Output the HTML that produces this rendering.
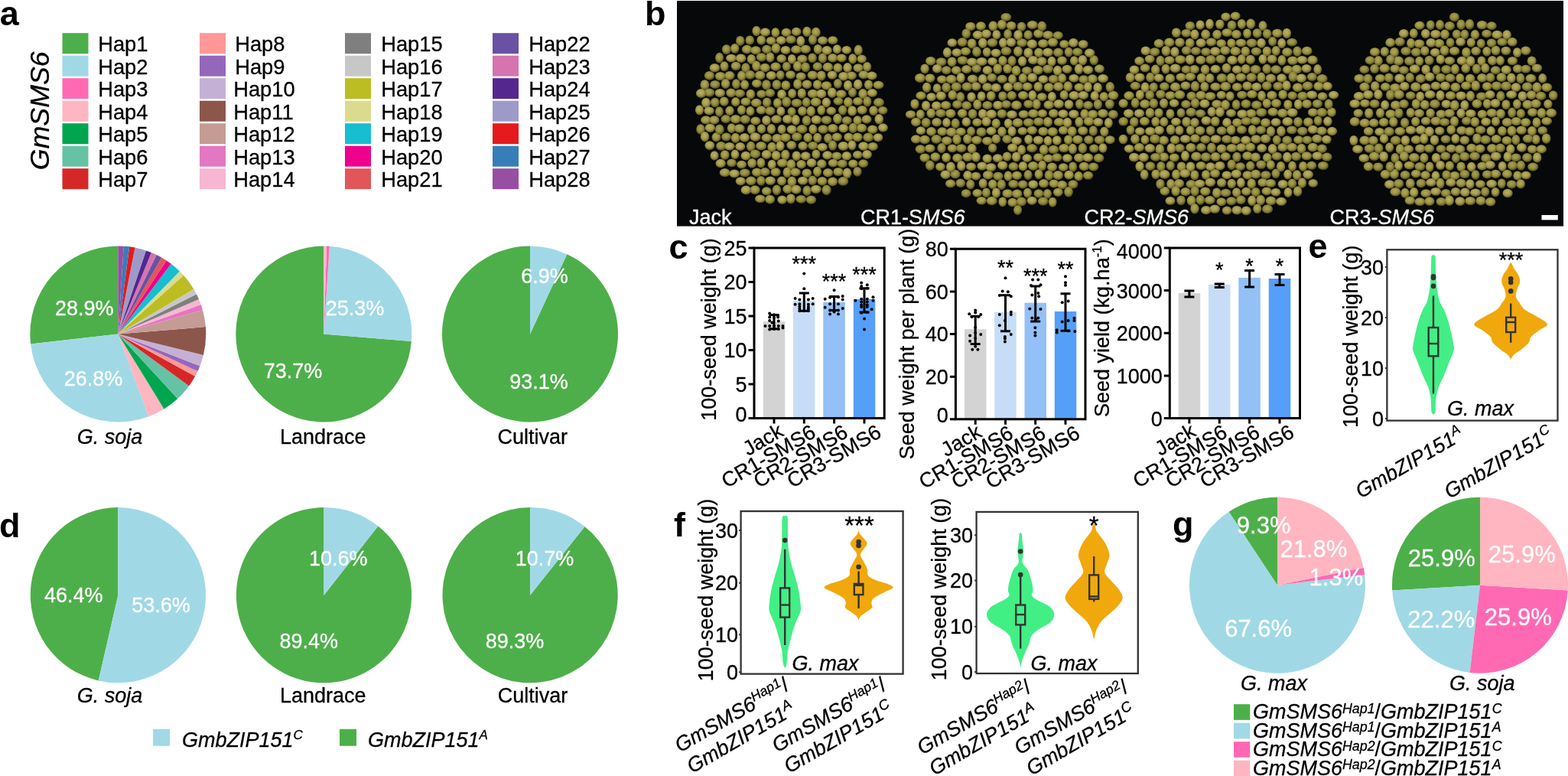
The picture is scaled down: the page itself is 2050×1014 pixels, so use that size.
<!DOCTYPE html>
<html><head><meta charset="utf-8"><title>Figure</title>
<style>
html,body{margin:0;padding:0;background:#fff;}
body{width:2050px;height:1014px;overflow:hidden;}
svg{display:block;}
text{stroke:#000;stroke-width:0.3px;}
text[fill="#fff"]{stroke:#fff;}
text[font-weight="bold"]{stroke:none;}
</style></head><body>
<svg width="2050" height="1014" viewBox="0 0 2050 1014" font-family="'Liberation Sans', Arial, sans-serif" font-size="27">
<text x="-0.3" y="33" font-weight="bold" font-size="45">a</text>
<text x="843" y="33" font-weight="bold" font-size="45">b</text>
<text x="874.5" y="337.5" font-weight="bold" font-size="45">c</text>
<text x="-1" y="701.5" font-weight="bold" font-size="45">d</text>
<text x="1710.5" y="336.5" font-weight="bold" font-size="45">e</text>
<text x="881" y="700.5" font-weight="bold" font-size="45">f</text>
<text x="1533" y="699.5" font-weight="bold" font-size="45">g</text>
<rect x="81.5" y="43.2" width="34" height="27" fill="#4DAF4A"/>
<text x="128.2" y="67.1" font-size="27.3">Hap1</text>
<rect x="81.5" y="72.7" width="34" height="27" fill="#A0D9E5"/>
<text x="128.2" y="96.6" font-size="27.3">Hap2</text>
<rect x="81.5" y="102.2" width="34" height="27" fill="#FF69B4"/>
<text x="128.2" y="126.1" font-size="27.3">Hap3</text>
<rect x="81.5" y="131.7" width="34" height="27" fill="#FFB6C1"/>
<text x="128.2" y="155.6" font-size="27.3">Hap4</text>
<rect x="81.5" y="161.2" width="34" height="27" fill="#00A550"/>
<text x="128.2" y="185.1" font-size="27.3">Hap5</text>
<rect x="81.5" y="190.7" width="34" height="27" fill="#66C2A5"/>
<text x="128.2" y="214.6" font-size="27.3">Hap6</text>
<rect x="81.5" y="220.2" width="34" height="27" fill="#D62728"/>
<text x="128.2" y="244.1" font-size="27.3">Hap7</text>
<rect x="261" y="43.2" width="34" height="27" fill="#FF9896"/>
<text x="307.2" y="67.1" font-size="27.3">Hap8</text>
<rect x="261" y="72.7" width="34" height="27" fill="#9467BD"/>
<text x="307.2" y="96.6" font-size="27.3">Hap9</text>
<rect x="261" y="102.2" width="34" height="27" fill="#C5B0D5"/>
<text x="305.2" y="126.1" font-size="27.3">Hap10</text>
<rect x="261" y="131.7" width="34" height="27" fill="#8C564B"/>
<text x="305.2" y="155.6" font-size="27.3">Hap11</text>
<rect x="261" y="161.2" width="34" height="27" fill="#C49C94"/>
<text x="305.2" y="185.1" font-size="27.3">Hap12</text>
<rect x="261" y="190.7" width="34" height="27" fill="#E377C2"/>
<text x="305.2" y="214.6" font-size="27.3">Hap13</text>
<rect x="261" y="220.2" width="34" height="27" fill="#F7B6D2"/>
<text x="305.2" y="244.1" font-size="27.3">Hap14</text>
<rect x="451" y="43.2" width="34" height="27" fill="#7F7F7F"/>
<text x="498.2" y="67.1" font-size="27.3">Hap15</text>
<rect x="451" y="72.7" width="34" height="27" fill="#C7C7C7"/>
<text x="498.2" y="96.6" font-size="27.3">Hap16</text>
<rect x="451" y="102.2" width="34" height="27" fill="#BCBD22"/>
<text x="498.2" y="126.1" font-size="27.3">Hap17</text>
<rect x="451" y="131.7" width="34" height="27" fill="#DBDB8D"/>
<text x="498.2" y="155.6" font-size="27.3">Hap18</text>
<rect x="451" y="161.2" width="34" height="27" fill="#17BECF"/>
<text x="498.2" y="185.1" font-size="27.3">Hap19</text>
<rect x="451" y="190.7" width="34" height="27" fill="#EC008C"/>
<text x="498.2" y="214.6" font-size="27.3">Hap20</text>
<rect x="451" y="220.2" width="34" height="27" fill="#E15759"/>
<text x="498.2" y="244.1" font-size="27.3">Hap21</text>
<rect x="644" y="43.2" width="34" height="27" fill="#6A51A3"/>
<text x="691.2" y="67.1" font-size="27.3">Hap22</text>
<rect x="644" y="72.7" width="34" height="27" fill="#D574AE"/>
<text x="691.2" y="96.6" font-size="27.3">Hap23</text>
<rect x="644" y="102.2" width="34" height="27" fill="#54278F"/>
<text x="691.2" y="126.1" font-size="27.3">Hap24</text>
<rect x="644" y="131.7" width="34" height="27" fill="#9E9AC8"/>
<text x="691.2" y="155.6" font-size="27.3">Hap25</text>
<rect x="644" y="161.2" width="34" height="27" fill="#E41A1C"/>
<text x="691.2" y="185.1" font-size="27.3">Hap26</text>
<rect x="644" y="190.7" width="34" height="27" fill="#377EB8"/>
<text x="691.2" y="214.6" font-size="27.3">Hap27</text>
<rect x="644" y="220.2" width="34" height="27" fill="#984EA3"/>
<text x="691.2" y="244.1" font-size="27.3">Hap28</text>
<text transform="translate(63.5 144.8) rotate(-90)" text-anchor="middle" font-style="italic" font-size="35.7">GmSMS6</text>
<path d="M154.30 436.40L154.30 321.40A115 115 0 0 0 40.04 449.41Z" fill="#4DAF4A"/>
<path d="M154.30 436.40L40.04 449.41A115 115 0 0 0 194.41 544.18Z" fill="#A0D9E5"/>
<path d="M154.30 436.40L194.41 544.18A115 115 0 0 0 214.47 534.40Z" fill="#FFB6C1"/>
<path d="M154.30 436.40L214.47 534.40A115 115 0 0 0 232.26 520.94Z" fill="#00A550"/>
<path d="M154.30 436.40L232.26 520.94A115 115 0 0 0 247.12 504.30Z" fill="#66C2A5"/>
<path d="M154.30 436.40L247.12 504.30A115 115 0 0 0 255.11 491.74Z" fill="#D62728"/>
<path d="M154.30 436.40L255.11 491.74A115 115 0 0 0 258.48 485.09Z" fill="#FF9896"/>
<path d="M154.30 436.40L258.48 485.09A115 115 0 0 0 261.42 478.25Z" fill="#9467BD"/>
<path d="M154.30 436.40L261.42 478.25A115 115 0 0 0 265.92 464.06Z" fill="#C5B0D5"/>
<path d="M154.30 436.40L265.92 464.06A115 115 0 0 0 268.92 427.10Z" fill="#8C564B"/>
<path d="M154.30 436.40L268.92 427.10A115 115 0 0 0 264.97 405.14Z" fill="#C49C94"/>
<path d="M154.30 436.40L264.97 405.14A115 115 0 0 0 262.71 398.04Z" fill="#E377C2"/>
<path d="M154.30 436.40L262.71 398.04A115 115 0 0 0 260.00 391.10Z" fill="#F7B6D2"/>
<path d="M154.30 436.40L260.00 391.10A115 115 0 0 0 256.85 384.36Z" fill="#7F7F7F"/>
<path d="M154.30 436.40L256.85 384.36A115 115 0 0 0 253.27 377.83Z" fill="#C7C7C7"/>
<path d="M154.30 436.40L253.27 377.83A115 115 0 0 0 240.09 359.82Z" fill="#BCBD22"/>
<path d="M154.30 436.40L240.09 359.82A115 115 0 0 0 234.96 354.43Z" fill="#DBDB8D"/>
<path d="M154.30 436.40L234.96 354.43A115 115 0 0 0 223.69 344.69Z" fill="#17BECF"/>
<path d="M154.30 436.40L223.69 344.69A115 115 0 0 0 217.61 340.39Z" fill="#EC008C"/>
<path d="M154.30 436.40L217.61 340.39A115 115 0 0 0 211.26 336.50Z" fill="#E15759"/>
<path d="M154.30 436.40L211.26 336.50A115 115 0 0 0 204.68 333.02Z" fill="#6A51A3"/>
<path d="M154.30 436.40L204.68 333.02A115 115 0 0 0 197.88 329.98Z" fill="#D574AE"/>
<path d="M154.30 436.40L197.88 329.98A115 115 0 0 0 190.90 327.38Z" fill="#54278F"/>
<path d="M154.30 436.40L190.90 327.38A115 115 0 0 0 176.51 323.56Z" fill="#9E9AC8"/>
<path d="M154.30 436.40L176.51 323.56A115 115 0 0 0 169.16 322.36Z" fill="#E41A1C"/>
<path d="M154.30 436.40L169.16 322.36A115 115 0 0 0 161.74 321.64Z" fill="#377EB8"/>
<path d="M154.30 436.40L161.74 321.64A115 115 0 0 0 154.30 321.40Z" fill="#984EA3"/>
<path d="M423.30 436.50L423.30 321.50A115 115 0 1 0 537.91 446.00Z" fill="#4DAF4A"/>
<path d="M423.30 436.50L537.91 446.00A115 115 0 0 0 430.90 321.75Z" fill="#A0D9E5"/>
<path d="M423.30 436.50L430.90 321.75A115 115 0 0 0 427.10 321.56Z" fill="#FF69B4"/>
<path d="M423.30 436.50L427.10 321.56A115 115 0 0 0 423.30 321.50Z" fill="#FFB6C1"/>
<path d="M693.00 436.50L693.00 321.50A115 115 0 1 0 741.31 332.14Z" fill="#4DAF4A"/>
<path d="M693.00 436.50L741.31 332.14A115 115 0 0 0 693.00 321.50Z" fill="#A0D9E5"/>
<text x="110.2" y="411.5" text-anchor="middle" fill="#fff">28.9%</text>
<text x="122" y="504" text-anchor="middle" fill="#fff">26.8%</text>
<text x="464" y="412.3" text-anchor="middle" fill="#fff">25.3%</text>
<text x="383" y="493.6" text-anchor="middle" fill="#fff">73.7%</text>
<text x="712" y="370" text-anchor="middle" fill="#fff">6.9%</text>
<text x="704.5" y="508.4" text-anchor="middle" fill="#fff">93.1%</text>
<text x="143.5" y="579.5" text-anchor="middle" font-style="italic">G. soja</text>
<text x="422.3" y="579.5" text-anchor="middle">Landrace</text>
<text x="696.3" y="579.5" text-anchor="middle">Cultivar</text>
<path d="M154.40 777.70L154.40 663.10A114.6 114.6 0 0 0 128.70 889.38Z" fill="#4DAF4A"/>
<path d="M154.40 777.70L128.70 889.38A114.6 114.6 0 1 0 154.40 663.10Z" fill="#A0D9E5"/>
<path d="M423.50 777.70L423.50 663.10A114.6 114.6 0 1 0 494.31 687.59Z" fill="#4DAF4A"/>
<path d="M423.50 777.70L494.31 687.59A114.6 114.6 0 0 0 423.50 663.10Z" fill="#A0D9E5"/>
<path d="M693.10 777.70L693.10 663.10A114.6 114.6 0 1 0 764.47 688.04Z" fill="#4DAF4A"/>
<path d="M693.10 777.70L764.47 688.04A114.6 114.6 0 0 0 693.10 663.10Z" fill="#A0D9E5"/>
<text x="96.2" y="786.6" text-anchor="middle" fill="#fff">46.4%</text>
<text x="210.5" y="799.5" text-anchor="middle" fill="#fff">53.6%</text>
<text x="442.3" y="739.2" text-anchor="middle" fill="#fff">10.6%</text>
<text x="403.8" y="847.3" text-anchor="middle" fill="#fff">89.4%</text>
<text x="712" y="739.2" text-anchor="middle" fill="#fff">10.7%</text>
<text x="673" y="847.3" text-anchor="middle" fill="#fff">89.3%</text>
<text x="143.5" y="918.3" text-anchor="middle" font-style="italic">G. soja</text>
<text x="422.3" y="918.3" text-anchor="middle">Landrace</text>
<text x="696.5" y="918.3" text-anchor="middle">Cultivar</text>
<rect x="200" y="952.7" width="22" height="22" fill="#A0D9E5"/>
<rect x="444" y="952.7" width="22" height="22" fill="#4DAF4A"/>
<text x="238" y="975.8" font-style="italic">GmbZIP151<tspan font-size="17" dy="-10">C</tspan></text>
<text x="481" y="975.8" font-style="italic">GmbZIP151<tspan font-size="17" dy="-10">A</tspan></text>
<defs><radialGradient id="sd" cx="0.45" cy="0.4" r="0.6"><stop offset="0" stop-color="#B0A85E"/><stop offset="0.55" stop-color="#9C9443"/><stop offset="1" stop-color="#57511E"/></radialGradient><radialGradient id="se" cx="0.45" cy="0.4" r="0.6"><stop offset="0" stop-color="#A8A25A"/><stop offset="0.55" stop-color="#918A3E"/><stop offset="1" stop-color="#4F4A1A"/></radialGradient><radialGradient id="sf" cx="0.45" cy="0.4" r="0.6"><stop offset="0" stop-color="#BAB26C"/><stop offset="0.55" stop-color="#A59B4C"/><stop offset="1" stop-color="#5E5722"/></radialGradient></defs>
<rect x="885" y="1" width="1159" height="294.6" fill="#070809"/>
<g fill="url(#sd)"><ellipse cx="989.0" cy="40.6" rx="5.6" ry="6.7"/><ellipse cx="1013.9" cy="42.6" rx="5.4" ry="6.4"/><ellipse cx="1028.0" cy="42.5" rx="6.4" ry="5.7"/><ellipse cx="1041.2" cy="41.4" rx="6.3" ry="5.6"/><ellipse cx="1055.0" cy="41.4" rx="5.7" ry="6.7"/><ellipse cx="1066.9" cy="42.2" rx="5.8" ry="6.4"/><ellipse cx="995.3" cy="52.5" rx="5.9" ry="6.2"/><ellipse cx="1008.2" cy="53.3" rx="6.5" ry="5.3"/><ellipse cx="1075.6" cy="52.9" rx="6.6" ry="5.4"/><ellipse cx="1088.8" cy="52.6" rx="6.6" ry="5.4"/><ellipse cx="960.7" cy="63.4" rx="5.7" ry="6.3"/><ellipse cx="976.6" cy="64.5" rx="6.7" ry="5.8"/><ellipse cx="988.1" cy="65.8" rx="6.8" ry="5.5"/><ellipse cx="1014.5" cy="63.2" rx="5.9" ry="6.6"/><ellipse cx="1041.1" cy="64.7" rx="7.0" ry="5.4"/><ellipse cx="1053.3" cy="64.3" rx="6.8" ry="5.5"/><ellipse cx="1069.4" cy="64.4" rx="5.6" ry="6.4"/><ellipse cx="1122.2" cy="65.6" rx="5.6" ry="6.8"/><ellipse cx="982.4" cy="77.4" rx="5.7" ry="6.5"/><ellipse cx="1006.9" cy="74.9" rx="5.6" ry="6.6"/><ellipse cx="1021.8" cy="76.6" rx="6.4" ry="5.5"/><ellipse cx="1048.9" cy="77.0" rx="6.8" ry="5.4"/><ellipse cx="1088.7" cy="75.7" rx="6.5" ry="5.7"/><ellipse cx="1100.3" cy="75.8" rx="6.5" ry="5.4"/><ellipse cx="1114.8" cy="76.8" rx="5.6" ry="6.6"/><ellipse cx="1126.7" cy="77.1" rx="6.3" ry="5.5"/><ellipse cx="947.0" cy="86.6" rx="5.6" ry="6.4"/><ellipse cx="962.1" cy="86.3" rx="6.4" ry="5.6"/><ellipse cx="988.9" cy="86.3" rx="5.7" ry="6.8"/><ellipse cx="1000.2" cy="88.5" rx="6.6" ry="5.8"/><ellipse cx="1014.1" cy="87.1" rx="6.8" ry="5.6"/><ellipse cx="1042.6" cy="86.5" rx="5.7" ry="6.7"/><ellipse cx="1082.4" cy="87.7" rx="6.7" ry="5.9"/><ellipse cx="1095.4" cy="88.7" rx="6.0" ry="6.1"/><ellipse cx="1122.1" cy="88.8" rx="6.6" ry="5.6"/><ellipse cx="1133.7" cy="87.3" rx="5.5" ry="6.3"/><ellipse cx="941.8" cy="99.6" rx="6.9" ry="5.7"/><ellipse cx="953.9" cy="98.8" rx="6.7" ry="5.8"/><ellipse cx="969.8" cy="99.2" rx="5.8" ry="6.6"/><ellipse cx="993.7" cy="98.4" rx="6.8" ry="5.8"/><ellipse cx="1033.6" cy="97.7" rx="6.5" ry="5.5"/><ellipse cx="1047.2" cy="99.8" rx="6.6" ry="5.3"/><ellipse cx="1062.4" cy="98.2" rx="6.8" ry="5.8"/><ellipse cx="1073.9" cy="98.9" rx="5.9" ry="6.5"/><ellipse cx="1113.3" cy="99.0" rx="6.7" ry="5.4"/><ellipse cx="1129.2" cy="97.7" rx="6.8" ry="5.4"/><ellipse cx="921.4" cy="110.9" rx="5.9" ry="6.7"/><ellipse cx="948.6" cy="109.5" rx="5.8" ry="6.4"/><ellipse cx="973.7" cy="110.8" rx="5.6" ry="6.2"/><ellipse cx="989.4" cy="109.2" rx="6.5" ry="5.5"/><ellipse cx="1027.4" cy="111.5" rx="5.9" ry="6.2"/><ellipse cx="1042.8" cy="109.9" rx="5.7" ry="6.6"/><ellipse cx="1055.0" cy="110.3" rx="6.5" ry="5.7"/><ellipse cx="1068.7" cy="110.7" rx="5.8" ry="6.2"/><ellipse cx="1080.6" cy="111.9" rx="6.7" ry="5.7"/><ellipse cx="1135.6" cy="110.7" rx="5.7" ry="6.3"/><ellipse cx="1148.5" cy="111.1" rx="7.0" ry="5.3"/><ellipse cx="955.8" cy="121.3" rx="6.5" ry="5.9"/><ellipse cx="981.4" cy="123.2" rx="5.8" ry="6.5"/><ellipse cx="1035.7" cy="122.3" rx="5.5" ry="6.3"/><ellipse cx="1048.3" cy="122.1" rx="5.7" ry="6.7"/><ellipse cx="1062.8" cy="122.5" rx="7.0" ry="5.7"/><ellipse cx="1099.8" cy="122.9" rx="6.8" ry="5.4"/><ellipse cx="1128.2" cy="122.7" rx="5.9" ry="6.6"/><ellipse cx="946.8" cy="132.6" rx="5.9" ry="6.2"/><ellipse cx="961.8" cy="133.2" rx="5.7" ry="6.1"/><ellipse cx="975.0" cy="132.9" rx="6.6" ry="5.4"/><ellipse cx="988.8" cy="134.4" rx="6.9" ry="5.6"/><ellipse cx="1016.5" cy="134.6" rx="5.6" ry="6.4"/><ellipse cx="1066.6" cy="133.3" rx="6.9" ry="5.9"/><ellipse cx="1108.9" cy="133.6" rx="5.9" ry="6.5"/><ellipse cx="1121.6" cy="132.4" rx="6.5" ry="5.4"/><ellipse cx="954.1" cy="144.8" rx="5.7" ry="6.2"/><ellipse cx="969.5" cy="143.8" rx="5.6" ry="6.2"/><ellipse cx="981.0" cy="145.3" rx="5.5" ry="6.2"/><ellipse cx="995.3" cy="143.9" rx="6.5" ry="5.6"/><ellipse cx="1049.0" cy="145.2" rx="5.9" ry="6.2"/><ellipse cx="1060.3" cy="145.4" rx="5.7" ry="6.7"/><ellipse cx="1073.8" cy="144.0" rx="5.4" ry="6.5"/><ellipse cx="1086.8" cy="144.9" rx="6.4" ry="5.3"/><ellipse cx="1127.2" cy="143.7" rx="6.6" ry="5.8"/><ellipse cx="1142.1" cy="144.6" rx="5.8" ry="6.4"/><ellipse cx="923.0" cy="156.8" rx="6.9" ry="5.5"/><ellipse cx="933.9" cy="156.9" rx="6.5" ry="5.6"/><ellipse cx="961.8" cy="155.7" rx="6.9" ry="5.8"/><ellipse cx="987.8" cy="157.9" rx="6.6" ry="5.3"/><ellipse cx="1015.1" cy="155.8" rx="6.9" ry="5.5"/><ellipse cx="1095.0" cy="155.2" rx="5.9" ry="6.8"/><ellipse cx="1121.1" cy="157.4" rx="5.7" ry="6.2"/><ellipse cx="1133.1" cy="155.9" rx="6.5" ry="5.6"/><ellipse cx="956.4" cy="167.6" rx="5.6" ry="6.3"/><ellipse cx="966.9" cy="167.9" rx="6.9" ry="5.7"/><ellipse cx="982.4" cy="168.9" rx="5.5" ry="6.5"/><ellipse cx="995.6" cy="168.4" rx="5.7" ry="6.1"/><ellipse cx="1008.5" cy="168.6" rx="5.7" ry="6.5"/><ellipse cx="1022.2" cy="169.0" rx="5.5" ry="6.2"/><ellipse cx="1062.9" cy="169.0" rx="5.5" ry="6.5"/><ellipse cx="1088.9" cy="167.6" rx="6.8" ry="5.7"/><ellipse cx="1126.5" cy="167.4" rx="6.9" ry="5.6"/><ellipse cx="1140.8" cy="169.2" rx="6.8" ry="5.6"/><ellipse cx="936.5" cy="179.2" rx="5.9" ry="6.1"/><ellipse cx="961.6" cy="180.3" rx="5.8" ry="6.6"/><ellipse cx="1002.4" cy="180.2" rx="6.8" ry="5.5"/><ellipse cx="1016.2" cy="180.6" rx="6.8" ry="5.7"/><ellipse cx="1027.0" cy="179.8" rx="6.9" ry="5.6"/><ellipse cx="1056.3" cy="179.9" rx="5.8" ry="6.2"/><ellipse cx="1068.8" cy="180.1" rx="5.7" ry="6.3"/><ellipse cx="1094.3" cy="179.1" rx="6.6" ry="5.5"/><ellipse cx="1109.6" cy="179.3" rx="6.3" ry="5.7"/><ellipse cx="1121.1" cy="179.3" rx="6.7" ry="5.8"/><ellipse cx="995.2" cy="190.7" rx="7.0" ry="5.6"/><ellipse cx="1009.3" cy="192.3" rx="6.0" ry="6.5"/><ellipse cx="1034.8" cy="189.7" rx="6.4" ry="5.7"/><ellipse cx="1049.7" cy="190.7" rx="6.3" ry="5.6"/><ellipse cx="1141.2" cy="191.4" rx="6.7" ry="5.5"/><ellipse cx="947.7" cy="202.5" rx="5.9" ry="6.3"/><ellipse cx="1026.8" cy="202.5" rx="5.7" ry="6.8"/><ellipse cx="1066.9" cy="201.6" rx="5.5" ry="6.2"/><ellipse cx="1094.0" cy="203.8" rx="6.5" ry="5.3"/><ellipse cx="1121.3" cy="202.2" rx="6.4" ry="5.3"/><ellipse cx="969.6" cy="215.0" rx="6.5" ry="5.3"/><ellipse cx="983.2" cy="213.3" rx="5.9" ry="6.3"/><ellipse cx="995.0" cy="212.8" rx="5.5" ry="6.5"/><ellipse cx="1022.9" cy="213.0" rx="7.0" ry="5.6"/><ellipse cx="1034.4" cy="214.9" rx="5.9" ry="6.6"/><ellipse cx="1047.7" cy="214.8" rx="6.3" ry="5.7"/><ellipse cx="1074.3" cy="214.1" rx="6.3" ry="5.8"/><ellipse cx="1089.3" cy="213.1" rx="6.6" ry="5.3"/><ellipse cx="1115.4" cy="213.9" rx="6.4" ry="5.4"/><ellipse cx="947.7" cy="225.6" rx="7.0" ry="5.5"/><ellipse cx="989.7" cy="225.2" rx="6.8" ry="5.7"/><ellipse cx="1014.1" cy="224.9" rx="6.6" ry="5.7"/><ellipse cx="1029.1" cy="225.4" rx="5.5" ry="6.8"/><ellipse cx="1040.0" cy="225.0" rx="6.8" ry="5.4"/><ellipse cx="1054.9" cy="226.2" rx="6.4" ry="5.8"/><ellipse cx="1068.6" cy="224.3" rx="5.6" ry="6.6"/><ellipse cx="1082.5" cy="225.8" rx="6.6" ry="5.7"/><ellipse cx="1096.0" cy="224.5" rx="6.6" ry="5.5"/><ellipse cx="981.9" cy="236.3" rx="6.9" ry="5.8"/><ellipse cx="1022.1" cy="236.5" rx="6.0" ry="6.1"/><ellipse cx="1035.4" cy="237.3" rx="5.9" ry="6.8"/><ellipse cx="1075.0" cy="236.7" rx="6.5" ry="5.7"/><ellipse cx="1088.6" cy="237.3" rx="6.5" ry="5.9"/><ellipse cx="987.1" cy="248.1" rx="6.7" ry="5.8"/><ellipse cx="1002.3" cy="249.8" rx="6.4" ry="5.5"/><ellipse cx="1029.7" cy="247.1" rx="6.4" ry="5.8"/><ellipse cx="993.9" cy="259.8" rx="6.9" ry="5.3"/><ellipse cx="1006.7" cy="260.6" rx="6.4" ry="5.8"/><ellipse cx="1034.0" cy="259.7" rx="5.9" ry="6.5"/><ellipse cx="1268.8" cy="34.5" rx="6.7" ry="5.6"/><ellipse cx="1282.5" cy="34.1" rx="6.5" ry="5.8"/><ellipse cx="1298.4" cy="34.2" rx="5.9" ry="6.6"/><ellipse cx="1310.0" cy="32.2" rx="6.0" ry="6.5"/><ellipse cx="1322.2" cy="33.6" rx="6.4" ry="5.7"/><ellipse cx="1349.8" cy="32.5" rx="7.0" ry="5.5"/><ellipse cx="1357.8" cy="44.0" rx="6.7" ry="5.7"/><ellipse cx="1370.2" cy="45.6" rx="6.9" ry="5.4"/><ellipse cx="1270.7" cy="57.0" rx="5.9" ry="6.6"/><ellipse cx="1363.9" cy="56.8" rx="6.8" ry="5.6"/><ellipse cx="1376.5" cy="55.3" rx="6.8" ry="5.8"/><ellipse cx="1391.5" cy="57.6" rx="6.3" ry="5.4"/><ellipse cx="1416.2" cy="57.8" rx="6.5" ry="5.6"/><ellipse cx="1262.5" cy="67.1" rx="6.7" ry="5.3"/><ellipse cx="1290.3" cy="68.1" rx="5.5" ry="6.2"/><ellipse cx="1331.0" cy="67.3" rx="5.9" ry="6.8"/><ellipse cx="1358.1" cy="68.9" rx="5.9" ry="6.2"/><ellipse cx="1216.8" cy="79.7" rx="6.7" ry="5.8"/><ellipse cx="1244.6" cy="80.8" rx="6.0" ry="6.4"/><ellipse cx="1311.0" cy="79.4" rx="5.7" ry="6.4"/><ellipse cx="1362.1" cy="80.1" rx="6.5" ry="5.8"/><ellipse cx="1388.6" cy="79.1" rx="6.4" ry="5.7"/><ellipse cx="1404.4" cy="79.4" rx="5.4" ry="6.2"/><ellipse cx="1209.1" cy="89.8" rx="5.7" ry="6.4"/><ellipse cx="1250.3" cy="91.8" rx="6.4" ry="5.5"/><ellipse cx="1263.7" cy="90.5" rx="6.7" ry="5.4"/><ellipse cx="1304.3" cy="89.9" rx="6.0" ry="6.7"/><ellipse cx="1317.2" cy="89.9" rx="5.9" ry="6.2"/><ellipse cx="1328.6" cy="92.4" rx="5.9" ry="6.6"/><ellipse cx="1356.9" cy="91.6" rx="6.9" ry="5.8"/><ellipse cx="1395.1" cy="90.3" rx="6.6" ry="5.6"/><ellipse cx="1437.4" cy="89.8" rx="6.5" ry="5.5"/><ellipse cx="1202.9" cy="102.0" rx="7.0" ry="5.9"/><ellipse cx="1215.9" cy="102.2" rx="6.6" ry="5.8"/><ellipse cx="1231.6" cy="103.7" rx="6.6" ry="5.3"/><ellipse cx="1243.8" cy="103.5" rx="7.0" ry="5.8"/><ellipse cx="1271.6" cy="103.1" rx="6.9" ry="5.5"/><ellipse cx="1323.5" cy="103.5" rx="5.5" ry="6.4"/><ellipse cx="1337.4" cy="102.2" rx="5.6" ry="6.4"/><ellipse cx="1388.7" cy="102.3" rx="5.6" ry="6.2"/><ellipse cx="1428.3" cy="103.2" rx="6.6" ry="5.9"/><ellipse cx="1211.6" cy="114.3" rx="5.7" ry="6.6"/><ellipse cx="1225.1" cy="115.4" rx="5.4" ry="6.2"/><ellipse cx="1276.0" cy="112.9" rx="6.5" ry="5.6"/><ellipse cx="1290.8" cy="113.7" rx="6.6" ry="5.4"/><ellipse cx="1343.2" cy="113.2" rx="6.6" ry="5.5"/><ellipse cx="1357.3" cy="113.3" rx="5.8" ry="6.3"/><ellipse cx="1371.3" cy="114.1" rx="6.5" ry="5.9"/><ellipse cx="1383.8" cy="113.1" rx="6.7" ry="5.8"/><ellipse cx="1396.3" cy="112.9" rx="5.9" ry="6.7"/><ellipse cx="1411.1" cy="114.1" rx="6.6" ry="5.4"/><ellipse cx="1204.1" cy="125.0" rx="6.8" ry="5.4"/><ellipse cx="1245.3" cy="124.2" rx="5.8" ry="6.4"/><ellipse cx="1295.8" cy="125.3" rx="5.9" ry="6.4"/><ellipse cx="1337.7" cy="124.6" rx="6.8" ry="5.6"/><ellipse cx="1362.3" cy="126.6" rx="6.4" ry="5.4"/><ellipse cx="1391.2" cy="124.2" rx="5.6" ry="6.2"/><ellipse cx="1443.3" cy="126.3" rx="5.8" ry="6.1"/><ellipse cx="1455.5" cy="124.7" rx="6.8" ry="5.9"/><ellipse cx="1196.0" cy="135.9" rx="5.7" ry="6.5"/><ellipse cx="1236.6" cy="137.4" rx="6.6" ry="5.4"/><ellipse cx="1277.8" cy="136.7" rx="5.6" ry="6.6"/><ellipse cx="1329.0" cy="137.4" rx="6.9" ry="5.9"/><ellipse cx="1355.2" cy="136.2" rx="5.5" ry="6.7"/><ellipse cx="1371.2" cy="137.0" rx="6.7" ry="5.7"/><ellipse cx="1190.6" cy="149.5" rx="6.8" ry="5.3"/><ellipse cx="1203.4" cy="149.5" rx="5.5" ry="6.2"/><ellipse cx="1217.3" cy="148.0" rx="5.8" ry="6.3"/><ellipse cx="1242.8" cy="148.3" rx="6.7" ry="5.8"/><ellipse cx="1258.2" cy="148.1" rx="6.4" ry="5.8"/><ellipse cx="1338.4" cy="149.2" rx="6.8" ry="5.3"/><ellipse cx="1351.1" cy="148.4" rx="6.9" ry="5.6"/><ellipse cx="1362.9" cy="148.2" rx="6.3" ry="5.3"/><ellipse cx="1377.4" cy="148.2" rx="6.5" ry="5.6"/><ellipse cx="1418.0" cy="149.1" rx="5.6" ry="6.5"/><ellipse cx="1428.8" cy="149.4" rx="6.5" ry="5.7"/><ellipse cx="1442.0" cy="148.3" rx="6.9" ry="5.7"/><ellipse cx="1197.5" cy="159.5" rx="6.5" ry="5.8"/><ellipse cx="1224.7" cy="159.8" rx="6.5" ry="5.7"/><ellipse cx="1277.6" cy="159.9" rx="6.3" ry="5.3"/><ellipse cx="1302.3" cy="161.3" rx="5.6" ry="6.4"/><ellipse cx="1330.6" cy="160.4" rx="6.9" ry="5.8"/><ellipse cx="1370.0" cy="159.4" rx="6.0" ry="6.4"/><ellipse cx="1384.7" cy="159.5" rx="6.9" ry="5.4"/><ellipse cx="1410.9" cy="159.4" rx="5.5" ry="6.7"/><ellipse cx="1423.6" cy="158.7" rx="6.7" ry="5.7"/><ellipse cx="1217.6" cy="171.8" rx="6.5" ry="5.9"/><ellipse cx="1231.9" cy="171.9" rx="6.5" ry="5.6"/><ellipse cx="1244.1" cy="172.7" rx="6.9" ry="5.9"/><ellipse cx="1256.3" cy="172.1" rx="6.6" ry="5.3"/><ellipse cx="1310.0" cy="172.1" rx="5.8" ry="6.5"/><ellipse cx="1336.9" cy="171.2" rx="6.4" ry="5.3"/><ellipse cx="1349.4" cy="170.3" rx="6.7" ry="5.5"/><ellipse cx="1363.9" cy="171.7" rx="6.6" ry="5.8"/><ellipse cx="1376.3" cy="172.2" rx="6.7" ry="5.9"/><ellipse cx="1390.2" cy="170.3" rx="6.4" ry="5.5"/><ellipse cx="1401.7" cy="171.7" rx="6.0" ry="6.5"/><ellipse cx="1415.8" cy="170.9" rx="6.7" ry="5.7"/><ellipse cx="1443.8" cy="172.1" rx="5.6" ry="6.4"/><ellipse cx="1197.6" cy="181.9" rx="6.7" ry="5.6"/><ellipse cx="1209.0" cy="182.5" rx="6.8" ry="5.7"/><ellipse cx="1237.9" cy="183.9" rx="6.9" ry="5.7"/><ellipse cx="1251.0" cy="182.3" rx="5.7" ry="6.7"/><ellipse cx="1264.9" cy="181.6" rx="5.8" ry="6.4"/><ellipse cx="1276.9" cy="183.1" rx="6.9" ry="5.6"/><ellipse cx="1290.9" cy="184.2" rx="6.8" ry="5.5"/><ellipse cx="1302.4" cy="181.6" rx="5.8" ry="6.2"/><ellipse cx="1396.7" cy="182.7" rx="5.7" ry="6.3"/><ellipse cx="1409.0" cy="182.4" rx="6.7" ry="5.7"/><ellipse cx="1451.2" cy="182.7" rx="6.6" ry="5.5"/><ellipse cx="1215.8" cy="193.9" rx="6.7" ry="5.4"/><ellipse cx="1245.1" cy="193.8" rx="6.4" ry="5.4"/><ellipse cx="1270.7" cy="194.2" rx="6.0" ry="6.4"/><ellipse cx="1335.7" cy="195.9" rx="5.5" ry="6.6"/><ellipse cx="1364.8" cy="195.7" rx="6.0" ry="6.7"/><ellipse cx="1391.1" cy="193.5" rx="6.9" ry="5.6"/><ellipse cx="1402.4" cy="194.5" rx="5.6" ry="6.8"/><ellipse cx="1209.1" cy="206.1" rx="6.7" ry="5.7"/><ellipse cx="1222.9" cy="205.0" rx="6.5" ry="5.7"/><ellipse cx="1251.8" cy="206.5" rx="6.6" ry="5.8"/><ellipse cx="1265.1" cy="205.3" rx="7.0" ry="5.7"/><ellipse cx="1316.6" cy="204.6" rx="5.9" ry="6.2"/><ellipse cx="1357.9" cy="205.6" rx="6.8" ry="5.4"/><ellipse cx="1370.6" cy="207.0" rx="6.9" ry="5.3"/><ellipse cx="1410.8" cy="206.2" rx="6.8" ry="5.8"/><ellipse cx="1229.4" cy="218.0" rx="6.3" ry="5.6"/><ellipse cx="1269.6" cy="217.8" rx="6.6" ry="5.4"/><ellipse cx="1350.8" cy="216.8" rx="6.9" ry="5.9"/><ellipse cx="1362.6" cy="216.4" rx="5.5" ry="6.7"/><ellipse cx="1375.5" cy="218.3" rx="6.6" ry="5.8"/><ellipse cx="1390.2" cy="218.6" rx="6.4" ry="5.3"/><ellipse cx="1417.4" cy="217.5" rx="6.8" ry="5.8"/><ellipse cx="1275.9" cy="230.1" rx="6.4" ry="5.3"/><ellipse cx="1291.8" cy="228.7" rx="6.9" ry="5.8"/><ellipse cx="1318.1" cy="230.2" rx="5.5" ry="6.6"/><ellipse cx="1329.6" cy="229.3" rx="6.5" ry="5.6"/><ellipse cx="1358.1" cy="227.7" rx="5.5" ry="6.4"/><ellipse cx="1383.3" cy="229.0" rx="6.8" ry="5.9"/><ellipse cx="1410.2" cy="230.3" rx="5.8" ry="6.2"/><ellipse cx="1242.7" cy="239.9" rx="6.7" ry="5.3"/><ellipse cx="1285.2" cy="239.6" rx="5.6" ry="6.4"/><ellipse cx="1297.9" cy="240.8" rx="5.8" ry="6.2"/><ellipse cx="1364.6" cy="239.7" rx="6.6" ry="5.6"/><ellipse cx="1377.9" cy="239.9" rx="6.4" ry="5.5"/><ellipse cx="1388.7" cy="241.6" rx="6.7" ry="5.5"/><ellipse cx="1277.8" cy="252.3" rx="6.4" ry="5.4"/><ellipse cx="1317.3" cy="252.9" rx="6.9" ry="5.7"/><ellipse cx="1329.8" cy="253.3" rx="6.7" ry="5.7"/><ellipse cx="1343.5" cy="252.1" rx="5.5" ry="6.4"/><ellipse cx="1383.3" cy="251.3" rx="6.4" ry="5.6"/><ellipse cx="1283.2" cy="262.2" rx="6.7" ry="5.3"/><ellipse cx="1296.7" cy="262.5" rx="6.9" ry="5.7"/><ellipse cx="1310.8" cy="263.8" rx="5.4" ry="6.4"/><ellipse cx="1323.9" cy="264.5" rx="6.5" ry="5.8"/><ellipse cx="1376.2" cy="264.1" rx="5.4" ry="6.4"/><ellipse cx="1602.6" cy="21.9" rx="6.3" ry="5.5"/><ellipse cx="1615.2" cy="20.8" rx="6.4" ry="5.4"/><ellipse cx="1594.9" cy="31.7" rx="5.8" ry="6.3"/><ellipse cx="1623.4" cy="31.4" rx="5.6" ry="6.5"/><ellipse cx="1635.3" cy="31.2" rx="5.9" ry="6.7"/><ellipse cx="1651.0" cy="33.8" rx="5.5" ry="6.5"/><ellipse cx="1537.9" cy="42.7" rx="6.0" ry="6.3"/><ellipse cx="1576.2" cy="45.0" rx="6.0" ry="6.4"/><ellipse cx="1591.2" cy="45.1" rx="6.0" ry="6.2"/><ellipse cx="1604.3" cy="42.6" rx="6.9" ry="5.4"/><ellipse cx="1616.5" cy="44.8" rx="6.4" ry="5.8"/><ellipse cx="1630.6" cy="43.8" rx="5.5" ry="6.3"/><ellipse cx="1669.9" cy="43.4" rx="6.8" ry="5.7"/><ellipse cx="1515.2" cy="56.7" rx="6.6" ry="5.7"/><ellipse cx="1528.8" cy="55.4" rx="6.7" ry="5.8"/><ellipse cx="1542.5" cy="55.5" rx="6.4" ry="5.9"/><ellipse cx="1555.7" cy="56.2" rx="5.9" ry="6.3"/><ellipse cx="1583.7" cy="54.9" rx="6.7" ry="5.5"/><ellipse cx="1596.8" cy="56.7" rx="6.4" ry="5.5"/><ellipse cx="1610.0" cy="56.5" rx="5.8" ry="6.1"/><ellipse cx="1622.6" cy="56.0" rx="7.0" ry="5.3"/><ellipse cx="1524.5" cy="66.6" rx="5.9" ry="6.7"/><ellipse cx="1601.8" cy="66.0" rx="6.7" ry="5.8"/><ellipse cx="1615.2" cy="66.9" rx="6.9" ry="5.9"/><ellipse cx="1628.3" cy="67.2" rx="5.8" ry="6.5"/><ellipse cx="1656.4" cy="67.2" rx="5.8" ry="6.5"/><ellipse cx="1668.3" cy="66.4" rx="5.5" ry="6.4"/><ellipse cx="1682.9" cy="68.1" rx="6.8" ry="5.8"/><ellipse cx="1708.8" cy="66.5" rx="6.8" ry="5.8"/><ellipse cx="1489.7" cy="79.6" rx="6.5" ry="5.6"/><ellipse cx="1503.2" cy="77.2" rx="6.4" ry="5.5"/><ellipse cx="1529.1" cy="78.6" rx="6.6" ry="5.4"/><ellipse cx="1543.2" cy="77.8" rx="7.0" ry="5.6"/><ellipse cx="1569.9" cy="78.5" rx="6.6" ry="5.8"/><ellipse cx="1623.3" cy="77.4" rx="5.4" ry="6.3"/><ellipse cx="1634.9" cy="77.9" rx="6.0" ry="6.1"/><ellipse cx="1663.1" cy="77.2" rx="6.5" ry="5.8"/><ellipse cx="1676.0" cy="78.7" rx="5.6" ry="6.8"/><ellipse cx="1690.1" cy="79.1" rx="7.0" ry="5.7"/><ellipse cx="1716.0" cy="78.4" rx="6.8" ry="5.9"/><ellipse cx="1497.1" cy="88.9" rx="6.5" ry="5.3"/><ellipse cx="1510.7" cy="91.3" rx="5.7" ry="6.7"/><ellipse cx="1524.1" cy="90.1" rx="5.5" ry="6.4"/><ellipse cx="1561.5" cy="90.6" rx="6.6" ry="5.5"/><ellipse cx="1575.6" cy="91.0" rx="5.9" ry="6.4"/><ellipse cx="1603.6" cy="89.0" rx="5.9" ry="6.2"/><ellipse cx="1628.8" cy="90.1" rx="6.0" ry="6.2"/><ellipse cx="1683.7" cy="91.2" rx="6.8" ry="5.6"/><ellipse cx="1695.2" cy="90.6" rx="6.9" ry="5.8"/><ellipse cx="1722.7" cy="90.7" rx="5.4" ry="6.7"/><ellipse cx="1477.7" cy="101.3" rx="6.0" ry="6.4"/><ellipse cx="1529.8" cy="102.5" rx="6.4" ry="5.9"/><ellipse cx="1544.1" cy="100.8" rx="6.7" ry="5.4"/><ellipse cx="1556.4" cy="100.3" rx="6.8" ry="5.4"/><ellipse cx="1570.9" cy="102.0" rx="6.0" ry="6.3"/><ellipse cx="1581.8" cy="102.2" rx="5.8" ry="6.1"/><ellipse cx="1609.8" cy="102.2" rx="6.0" ry="6.8"/><ellipse cx="1622.5" cy="100.9" rx="6.7" ry="5.5"/><ellipse cx="1649.0" cy="101.2" rx="5.5" ry="6.8"/><ellipse cx="1661.5" cy="102.3" rx="6.7" ry="5.7"/><ellipse cx="1536.7" cy="113.7" rx="6.8" ry="5.9"/><ellipse cx="1550.0" cy="111.9" rx="6.5" ry="5.5"/><ellipse cx="1574.9" cy="113.2" rx="5.6" ry="6.3"/><ellipse cx="1589.2" cy="113.3" rx="6.9" ry="5.4"/><ellipse cx="1602.3" cy="112.9" rx="6.9" ry="5.9"/><ellipse cx="1617.4" cy="113.6" rx="6.6" ry="5.4"/><ellipse cx="1630.7" cy="112.3" rx="6.4" ry="5.8"/><ellipse cx="1696.7" cy="114.3" rx="6.9" ry="5.8"/><ellipse cx="1724.0" cy="112.6" rx="6.6" ry="5.9"/><ellipse cx="1476.1" cy="125.0" rx="6.8" ry="5.8"/><ellipse cx="1530.1" cy="124.7" rx="6.6" ry="5.5"/><ellipse cx="1542.5" cy="123.8" rx="6.9" ry="5.8"/><ellipse cx="1570.2" cy="124.5" rx="6.7" ry="5.7"/><ellipse cx="1582.4" cy="125.6" rx="7.0" ry="5.4"/><ellipse cx="1596.9" cy="124.2" rx="6.3" ry="5.4"/><ellipse cx="1608.3" cy="125.6" rx="5.5" ry="6.1"/><ellipse cx="1636.9" cy="123.2" rx="6.9" ry="5.4"/><ellipse cx="1649.6" cy="125.3" rx="5.4" ry="6.8"/><ellipse cx="1662.9" cy="124.6" rx="6.7" ry="5.8"/><ellipse cx="1677.2" cy="123.6" rx="5.9" ry="6.2"/><ellipse cx="1729.0" cy="125.9" rx="6.5" ry="5.3"/><ellipse cx="1468.7" cy="135.1" rx="6.3" ry="5.9"/><ellipse cx="1496.8" cy="135.9" rx="6.7" ry="5.8"/><ellipse cx="1521.7" cy="135.0" rx="5.7" ry="6.5"/><ellipse cx="1590.9" cy="135.9" rx="6.7" ry="5.5"/><ellipse cx="1602.1" cy="137.1" rx="5.8" ry="6.6"/><ellipse cx="1656.3" cy="135.1" rx="5.7" ry="6.2"/><ellipse cx="1668.6" cy="135.0" rx="6.5" ry="5.8"/><ellipse cx="1683.9" cy="136.9" rx="5.7" ry="6.5"/><ellipse cx="1708.6" cy="135.8" rx="6.4" ry="5.8"/><ellipse cx="1503.5" cy="147.5" rx="5.9" ry="6.4"/><ellipse cx="1515.1" cy="147.6" rx="5.7" ry="6.2"/><ellipse cx="1530.0" cy="148.8" rx="5.6" ry="6.4"/><ellipse cx="1609.6" cy="147.8" rx="6.6" ry="5.3"/><ellipse cx="1635.9" cy="148.3" rx="6.8" ry="5.6"/><ellipse cx="1664.3" cy="146.3" rx="6.9" ry="5.5"/><ellipse cx="1676.9" cy="147.9" rx="6.8" ry="5.8"/><ellipse cx="1716.5" cy="146.9" rx="6.6" ry="5.5"/><ellipse cx="1741.0" cy="146.6" rx="5.9" ry="6.2"/><ellipse cx="1496.4" cy="158.5" rx="6.5" ry="5.7"/><ellipse cx="1510.8" cy="159.1" rx="5.4" ry="6.4"/><ellipse cx="1521.8" cy="159.3" rx="5.6" ry="6.2"/><ellipse cx="1551.2" cy="159.3" rx="5.9" ry="6.6"/><ellipse cx="1562.0" cy="160.2" rx="5.7" ry="6.2"/><ellipse cx="1588.8" cy="158.6" rx="5.9" ry="6.4"/><ellipse cx="1617.5" cy="160.3" rx="6.5" ry="5.7"/><ellipse cx="1654.6" cy="160.4" rx="6.5" ry="5.8"/><ellipse cx="1710.4" cy="159.5" rx="6.4" ry="5.9"/><ellipse cx="1530.7" cy="169.4" rx="5.9" ry="6.7"/><ellipse cx="1542.0" cy="170.4" rx="5.6" ry="6.2"/><ellipse cx="1556.5" cy="170.4" rx="5.6" ry="6.2"/><ellipse cx="1568.9" cy="170.7" rx="6.5" ry="5.8"/><ellipse cx="1609.6" cy="169.7" rx="5.9" ry="6.5"/><ellipse cx="1637.3" cy="170.0" rx="5.6" ry="6.7"/><ellipse cx="1661.5" cy="171.8" rx="5.7" ry="6.7"/><ellipse cx="1675.0" cy="171.5" rx="5.8" ry="6.8"/><ellipse cx="1728.1" cy="171.1" rx="6.8" ry="5.6"/><ellipse cx="1468.5" cy="182.0" rx="5.9" ry="6.3"/><ellipse cx="1484.0" cy="181.7" rx="5.9" ry="6.4"/><ellipse cx="1496.9" cy="182.6" rx="5.4" ry="6.1"/><ellipse cx="1521.6" cy="183.4" rx="6.4" ry="5.8"/><ellipse cx="1536.1" cy="182.8" rx="6.3" ry="5.7"/><ellipse cx="1562.5" cy="180.8" rx="6.4" ry="5.5"/><ellipse cx="1615.3" cy="183.0" rx="6.6" ry="5.3"/><ellipse cx="1642.1" cy="181.8" rx="6.7" ry="5.6"/><ellipse cx="1654.6" cy="181.3" rx="6.7" ry="5.8"/><ellipse cx="1697.6" cy="182.7" rx="6.4" ry="5.4"/><ellipse cx="1721.9" cy="181.3" rx="6.9" ry="5.5"/><ellipse cx="1489.5" cy="192.6" rx="6.7" ry="5.6"/><ellipse cx="1516.4" cy="194.9" rx="5.8" ry="6.7"/><ellipse cx="1557.0" cy="192.9" rx="6.7" ry="5.9"/><ellipse cx="1597.2" cy="194.3" rx="6.6" ry="5.8"/><ellipse cx="1610.6" cy="193.4" rx="7.0" ry="5.4"/><ellipse cx="1622.9" cy="192.7" rx="6.6" ry="5.5"/><ellipse cx="1634.7" cy="192.2" rx="6.6" ry="5.7"/><ellipse cx="1676.9" cy="192.5" rx="6.6" ry="5.5"/><ellipse cx="1689.1" cy="192.3" rx="6.9" ry="5.5"/><ellipse cx="1701.6" cy="194.2" rx="5.8" ry="6.5"/><ellipse cx="1716.4" cy="192.5" rx="6.8" ry="5.8"/><ellipse cx="1521.8" cy="205.2" rx="6.4" ry="5.7"/><ellipse cx="1535.3" cy="205.9" rx="6.6" ry="5.5"/><ellipse cx="1564.0" cy="204.4" rx="6.8" ry="5.8"/><ellipse cx="1589.2" cy="204.8" rx="6.6" ry="5.8"/><ellipse cx="1602.3" cy="204.5" rx="6.6" ry="5.4"/><ellipse cx="1630.9" cy="203.7" rx="6.7" ry="5.6"/><ellipse cx="1641.5" cy="205.4" rx="6.4" ry="5.9"/><ellipse cx="1656.8" cy="206.0" rx="5.9" ry="6.1"/><ellipse cx="1708.4" cy="203.8" rx="6.9" ry="5.5"/><ellipse cx="1544.7" cy="217.7" rx="6.0" ry="6.3"/><ellipse cx="1570.3" cy="216.5" rx="6.6" ry="5.4"/><ellipse cx="1661.4" cy="215.5" rx="5.5" ry="6.2"/><ellipse cx="1674.6" cy="217.7" rx="5.7" ry="6.7"/><ellipse cx="1689.6" cy="217.2" rx="5.4" ry="6.7"/><ellipse cx="1703.7" cy="217.4" rx="5.6" ry="6.5"/><ellipse cx="1496.2" cy="228.2" rx="5.4" ry="6.7"/><ellipse cx="1511.0" cy="227.7" rx="5.6" ry="6.3"/><ellipse cx="1537.6" cy="228.1" rx="5.5" ry="6.6"/><ellipse cx="1561.9" cy="228.9" rx="5.6" ry="6.4"/><ellipse cx="1576.6" cy="228.5" rx="5.6" ry="6.2"/><ellipse cx="1588.5" cy="226.6" rx="6.5" ry="5.7"/><ellipse cx="1631.1" cy="228.8" rx="6.6" ry="5.6"/><ellipse cx="1641.7" cy="227.6" rx="6.7" ry="5.9"/><ellipse cx="1695.7" cy="228.8" rx="5.8" ry="6.5"/><ellipse cx="1530.7" cy="240.5" rx="5.5" ry="6.4"/><ellipse cx="1541.6" cy="239.7" rx="6.6" ry="5.6"/><ellipse cx="1597.2" cy="238.8" rx="6.3" ry="5.8"/><ellipse cx="1610.3" cy="240.0" rx="5.7" ry="6.2"/><ellipse cx="1636.3" cy="240.0" rx="5.8" ry="6.8"/><ellipse cx="1650.9" cy="238.5" rx="6.5" ry="5.6"/><ellipse cx="1661.3" cy="239.4" rx="6.8" ry="5.4"/><ellipse cx="1702.5" cy="239.0" rx="5.6" ry="6.7"/><ellipse cx="1716.8" cy="239.4" rx="6.3" ry="5.4"/><ellipse cx="1522.8" cy="249.7" rx="6.4" ry="5.7"/><ellipse cx="1537.2" cy="249.6" rx="5.8" ry="6.6"/><ellipse cx="1550.0" cy="250.6" rx="6.7" ry="5.5"/><ellipse cx="1575.8" cy="250.1" rx="6.8" ry="5.7"/><ellipse cx="1590.8" cy="252.1" rx="5.8" ry="6.7"/><ellipse cx="1616.7" cy="251.5" rx="5.7" ry="6.3"/><ellipse cx="1629.5" cy="250.2" rx="6.4" ry="5.5"/><ellipse cx="1656.1" cy="249.8" rx="6.6" ry="5.4"/><ellipse cx="1696.6" cy="250.0" rx="5.8" ry="6.7"/><ellipse cx="1557.7" cy="262.3" rx="5.9" ry="6.7"/><ellipse cx="1581.8" cy="261.5" rx="6.9" ry="5.4"/><ellipse cx="1596.8" cy="263.7" rx="6.4" ry="5.5"/><ellipse cx="1648.2" cy="261.5" rx="5.9" ry="6.8"/><ellipse cx="1661.7" cy="262.3" rx="6.9" ry="5.9"/><ellipse cx="1562.0" cy="272.7" rx="5.7" ry="6.7"/><ellipse cx="1604.1" cy="275.1" rx="6.3" ry="5.5"/><ellipse cx="1643.8" cy="272.7" rx="5.6" ry="6.3"/><ellipse cx="1856.0" cy="33.3" rx="6.6" ry="5.5"/><ellipse cx="1937.7" cy="32.6" rx="6.9" ry="5.7"/><ellipse cx="1848.3" cy="43.6" rx="5.5" ry="6.3"/><ellipse cx="1889.0" cy="44.9" rx="5.9" ry="6.3"/><ellipse cx="1928.5" cy="45.3" rx="5.7" ry="6.2"/><ellipse cx="1817.7" cy="55.7" rx="6.4" ry="5.9"/><ellipse cx="1844.6" cy="56.6" rx="5.5" ry="6.5"/><ellipse cx="1855.6" cy="57.1" rx="6.8" ry="5.7"/><ellipse cx="1881.7" cy="56.7" rx="6.6" ry="5.6"/><ellipse cx="1923.4" cy="55.6" rx="5.6" ry="6.1"/><ellipse cx="1977.2" cy="54.8" rx="6.5" ry="5.8"/><ellipse cx="1797.5" cy="67.9" rx="6.6" ry="5.7"/><ellipse cx="1810.3" cy="67.5" rx="5.6" ry="6.2"/><ellipse cx="1823.0" cy="68.4" rx="5.9" ry="6.5"/><ellipse cx="1862.8" cy="66.5" rx="5.7" ry="6.2"/><ellipse cx="1888.6" cy="66.1" rx="5.9" ry="6.6"/><ellipse cx="1901.6" cy="66.6" rx="6.8" ry="5.6"/><ellipse cx="1917.0" cy="68.6" rx="5.8" ry="6.7"/><ellipse cx="1929.6" cy="66.7" rx="6.3" ry="5.7"/><ellipse cx="1943.9" cy="67.2" rx="5.6" ry="6.3"/><ellipse cx="1955.5" cy="66.0" rx="6.0" ry="6.2"/><ellipse cx="1968.9" cy="66.3" rx="6.4" ry="5.6"/><ellipse cx="1994.8" cy="66.2" rx="6.6" ry="5.8"/><ellipse cx="1802.1" cy="79.5" rx="5.7" ry="6.4"/><ellipse cx="1828.4" cy="79.5" rx="6.8" ry="5.9"/><ellipse cx="1855.8" cy="79.9" rx="5.5" ry="6.2"/><ellipse cx="1895.3" cy="79.3" rx="6.8" ry="5.4"/><ellipse cx="1937.0" cy="79.7" rx="5.5" ry="6.3"/><ellipse cx="1951.1" cy="79.2" rx="6.0" ry="6.2"/><ellipse cx="1961.5" cy="79.2" rx="5.4" ry="6.2"/><ellipse cx="1977.4" cy="79.5" rx="6.6" ry="5.6"/><ellipse cx="2002.7" cy="79.8" rx="6.0" ry="6.3"/><ellipse cx="1810.2" cy="89.3" rx="6.9" ry="5.8"/><ellipse cx="1823.8" cy="89.8" rx="6.5" ry="5.4"/><ellipse cx="1902.4" cy="90.4" rx="5.5" ry="6.7"/><ellipse cx="1916.3" cy="89.3" rx="5.9" ry="6.2"/><ellipse cx="1941.8" cy="89.1" rx="5.6" ry="6.3"/><ellipse cx="1984.2" cy="89.8" rx="6.4" ry="5.5"/><ellipse cx="2009.5" cy="89.0" rx="6.7" ry="5.5"/><ellipse cx="1777.1" cy="102.5" rx="6.8" ry="5.6"/><ellipse cx="1804.5" cy="102.3" rx="6.6" ry="5.3"/><ellipse cx="1908.9" cy="102.2" rx="5.6" ry="6.3"/><ellipse cx="1922.2" cy="102.7" rx="6.3" ry="5.9"/><ellipse cx="1937.7" cy="101.8" rx="6.6" ry="5.8"/><ellipse cx="1963.0" cy="101.2" rx="6.5" ry="5.9"/><ellipse cx="2001.5" cy="102.4" rx="6.9" ry="5.6"/><ellipse cx="2016.8" cy="102.4" rx="5.5" ry="6.3"/><ellipse cx="1784.0" cy="113.6" rx="6.7" ry="5.9"/><ellipse cx="1797.8" cy="112.7" rx="5.8" ry="6.5"/><ellipse cx="1811.4" cy="113.4" rx="6.5" ry="5.3"/><ellipse cx="1824.1" cy="114.7" rx="6.9" ry="5.8"/><ellipse cx="1850.9" cy="113.5" rx="6.8" ry="5.9"/><ellipse cx="1877.1" cy="112.2" rx="6.6" ry="5.4"/><ellipse cx="1902.9" cy="114.0" rx="6.5" ry="5.9"/><ellipse cx="1916.7" cy="111.9" rx="6.6" ry="5.3"/><ellipse cx="1929.2" cy="111.9" rx="5.9" ry="6.7"/><ellipse cx="1944.3" cy="112.8" rx="6.4" ry="5.6"/><ellipse cx="2009.4" cy="114.2" rx="6.0" ry="6.7"/><ellipse cx="2022.3" cy="114.2" rx="7.0" ry="5.8"/><ellipse cx="1829.1" cy="123.5" rx="6.7" ry="5.9"/><ellipse cx="1896.5" cy="124.8" rx="6.8" ry="5.5"/><ellipse cx="1922.5" cy="125.5" rx="5.6" ry="6.7"/><ellipse cx="2002.2" cy="124.1" rx="6.4" ry="5.8"/><ellipse cx="1784.5" cy="135.0" rx="6.5" ry="5.3"/><ellipse cx="1824.7" cy="137.4" rx="6.7" ry="5.8"/><ellipse cx="1851.3" cy="135.9" rx="5.6" ry="6.5"/><ellipse cx="1862.8" cy="136.9" rx="6.0" ry="6.1"/><ellipse cx="1901.8" cy="137.7" rx="6.0" ry="6.7"/><ellipse cx="1931.0" cy="135.6" rx="6.6" ry="5.8"/><ellipse cx="1944.3" cy="135.6" rx="5.5" ry="6.3"/><ellipse cx="1969.0" cy="136.7" rx="5.6" ry="6.3"/><ellipse cx="1983.4" cy="136.1" rx="5.4" ry="6.4"/><ellipse cx="1997.2" cy="136.6" rx="6.8" ry="5.8"/><ellipse cx="2008.1" cy="135.5" rx="6.7" ry="5.8"/><ellipse cx="2023.9" cy="136.0" rx="5.7" ry="6.1"/><ellipse cx="1775.8" cy="147.9" rx="6.3" ry="5.4"/><ellipse cx="1789.7" cy="148.1" rx="5.7" ry="6.7"/><ellipse cx="1804.5" cy="147.6" rx="5.6" ry="6.4"/><ellipse cx="1818.2" cy="149.1" rx="6.8" ry="5.8"/><ellipse cx="1844.2" cy="147.3" rx="5.6" ry="6.3"/><ellipse cx="1855.6" cy="148.1" rx="6.5" ry="5.5"/><ellipse cx="1870.1" cy="148.0" rx="5.8" ry="6.2"/><ellipse cx="1884.1" cy="149.1" rx="6.4" ry="5.7"/><ellipse cx="1895.2" cy="148.1" rx="6.8" ry="5.5"/><ellipse cx="1937.9" cy="149.2" rx="6.3" ry="5.7"/><ellipse cx="1950.5" cy="147.6" rx="6.9" ry="5.6"/><ellipse cx="1962.1" cy="148.7" rx="5.9" ry="6.3"/><ellipse cx="2003.6" cy="146.8" rx="6.5" ry="5.6"/><ellipse cx="2015.6" cy="147.8" rx="5.9" ry="6.5"/><ellipse cx="2028.2" cy="147.6" rx="7.0" ry="5.9"/><ellipse cx="1771.2" cy="159.0" rx="6.6" ry="5.9"/><ellipse cx="1784.2" cy="160.7" rx="6.7" ry="5.7"/><ellipse cx="1796.2" cy="160.6" rx="6.4" ry="5.5"/><ellipse cx="1809.2" cy="159.8" rx="6.4" ry="5.7"/><ellipse cx="1821.8" cy="159.4" rx="5.7" ry="6.4"/><ellipse cx="1850.7" cy="159.0" rx="5.6" ry="6.2"/><ellipse cx="1864.2" cy="158.1" rx="6.3" ry="5.4"/><ellipse cx="1877.3" cy="158.2" rx="6.9" ry="5.7"/><ellipse cx="1901.5" cy="158.7" rx="5.7" ry="6.7"/><ellipse cx="1928.4" cy="159.4" rx="5.8" ry="6.4"/><ellipse cx="1955.5" cy="158.7" rx="5.6" ry="6.2"/><ellipse cx="1970.6" cy="159.8" rx="6.8" ry="5.7"/><ellipse cx="1982.4" cy="158.5" rx="6.7" ry="5.6"/><ellipse cx="1994.7" cy="159.9" rx="6.5" ry="5.7"/><ellipse cx="2009.0" cy="160.1" rx="5.5" ry="6.7"/><ellipse cx="2022.2" cy="158.3" rx="6.9" ry="5.3"/><ellipse cx="1789.2" cy="171.5" rx="6.4" ry="5.6"/><ellipse cx="1830.4" cy="171.4" rx="6.9" ry="5.5"/><ellipse cx="1882.2" cy="171.1" rx="6.3" ry="5.5"/><ellipse cx="1897.3" cy="169.6" rx="5.9" ry="6.2"/><ellipse cx="1911.0" cy="170.5" rx="6.7" ry="5.5"/><ellipse cx="1921.5" cy="171.6" rx="6.5" ry="5.7"/><ellipse cx="1964.0" cy="171.3" rx="5.9" ry="6.2"/><ellipse cx="1976.6" cy="171.2" rx="6.0" ry="6.6"/><ellipse cx="1989.2" cy="170.2" rx="6.8" ry="5.6"/><ellipse cx="2002.9" cy="171.3" rx="5.9" ry="6.4"/><ellipse cx="1784.2" cy="183.4" rx="6.9" ry="5.9"/><ellipse cx="1795.5" cy="183.6" rx="6.3" ry="5.8"/><ellipse cx="1851.4" cy="182.6" rx="6.7" ry="5.6"/><ellipse cx="1914.9" cy="183.2" rx="6.3" ry="5.7"/><ellipse cx="1931.0" cy="181.1" rx="5.8" ry="6.7"/><ellipse cx="1956.2" cy="181.6" rx="6.6" ry="5.5"/><ellipse cx="1970.1" cy="183.6" rx="6.6" ry="5.5"/><ellipse cx="2008.2" cy="182.3" rx="5.4" ry="6.4"/><ellipse cx="2021.7" cy="181.1" rx="5.8" ry="6.7"/><ellipse cx="1816.7" cy="192.6" rx="5.6" ry="6.3"/><ellipse cx="1830.5" cy="195.0" rx="5.7" ry="6.7"/><ellipse cx="1841.6" cy="194.7" rx="6.5" ry="5.3"/><ellipse cx="1856.8" cy="194.0" rx="6.7" ry="5.5"/><ellipse cx="1897.4" cy="194.1" rx="6.8" ry="5.3"/><ellipse cx="1908.7" cy="195.1" rx="6.7" ry="5.8"/><ellipse cx="1924.0" cy="193.5" rx="6.7" ry="5.8"/><ellipse cx="1935.1" cy="194.3" rx="6.6" ry="5.5"/><ellipse cx="1950.8" cy="193.9" rx="6.8" ry="5.8"/><ellipse cx="2003.3" cy="195.0" rx="6.4" ry="5.5"/><ellipse cx="2015.3" cy="194.9" rx="6.7" ry="5.6"/><ellipse cx="1796.8" cy="204.1" rx="6.9" ry="5.8"/><ellipse cx="1835.8" cy="204.3" rx="6.0" ry="6.4"/><ellipse cx="1848.9" cy="205.8" rx="7.0" ry="5.8"/><ellipse cx="1861.9" cy="206.5" rx="5.6" ry="6.4"/><ellipse cx="1789.1" cy="217.6" rx="6.4" ry="5.9"/><ellipse cx="1842.6" cy="216.0" rx="7.0" ry="5.3"/><ellipse cx="1869.2" cy="218.1" rx="5.4" ry="6.7"/><ellipse cx="1895.4" cy="216.7" rx="5.7" ry="6.2"/><ellipse cx="1910.2" cy="217.9" rx="5.8" ry="6.5"/><ellipse cx="1937.8" cy="217.0" rx="6.6" ry="5.4"/><ellipse cx="1811.2" cy="227.9" rx="6.6" ry="5.9"/><ellipse cx="1823.0" cy="227.3" rx="6.0" ry="6.6"/><ellipse cx="1851.3" cy="227.0" rx="6.5" ry="5.3"/><ellipse cx="1863.6" cy="228.8" rx="6.3" ry="5.5"/><ellipse cx="1901.8" cy="229.5" rx="6.7" ry="5.6"/><ellipse cx="1955.4" cy="227.3" rx="6.7" ry="5.6"/><ellipse cx="1970.5" cy="227.4" rx="6.5" ry="5.6"/><ellipse cx="1984.0" cy="229.6" rx="5.7" ry="6.2"/><ellipse cx="1843.8" cy="239.8" rx="6.0" ry="6.5"/><ellipse cx="1883.2" cy="239.6" rx="5.4" ry="6.8"/><ellipse cx="1910.3" cy="239.3" rx="6.6" ry="5.7"/><ellipse cx="1935.5" cy="240.5" rx="6.5" ry="5.3"/><ellipse cx="1988.2" cy="240.4" rx="5.8" ry="6.2"/><ellipse cx="1824.4" cy="250.7" rx="7.0" ry="5.6"/><ellipse cx="1837.0" cy="252.3" rx="5.7" ry="6.5"/><ellipse cx="1864.3" cy="252.6" rx="6.9" ry="5.3"/><ellipse cx="1903.1" cy="250.5" rx="6.3" ry="5.6"/><ellipse cx="1955.1" cy="251.1" rx="5.5" ry="6.1"/><ellipse cx="1843.4" cy="262.1" rx="6.8" ry="5.5"/><ellipse cx="1856.5" cy="263.6" rx="6.9" ry="5.4"/><ellipse cx="1869.0" cy="263.1" rx="6.5" ry="5.8"/><ellipse cx="1922.3" cy="262.5" rx="6.9" ry="5.5"/><ellipse cx="1936.0" cy="262.4" rx="6.5" ry="5.8"/><ellipse cx="1948.7" cy="263.8" rx="6.7" ry="5.7"/></g>
<g fill="url(#se)"><ellipse cx="967.8" cy="53.4" rx="5.7" ry="6.5"/><ellipse cx="980.3" cy="52.6" rx="5.8" ry="6.2"/><ellipse cx="1034.1" cy="51.7" rx="6.8" ry="5.4"/><ellipse cx="1062.5" cy="51.7" rx="5.6" ry="6.8"/><ellipse cx="949.8" cy="64.6" rx="5.9" ry="6.4"/><ellipse cx="1002.5" cy="64.5" rx="6.4" ry="5.8"/><ellipse cx="940.6" cy="75.6" rx="5.5" ry="6.8"/><ellipse cx="995.6" cy="74.8" rx="6.8" ry="5.6"/><ellipse cx="1062.1" cy="75.8" rx="5.8" ry="6.3"/><ellipse cx="1075.5" cy="76.0" rx="5.7" ry="6.6"/><ellipse cx="975.0" cy="88.9" rx="5.7" ry="6.6"/><ellipse cx="1028.4" cy="86.9" rx="5.5" ry="6.1"/><ellipse cx="1053.2" cy="87.9" rx="5.8" ry="6.4"/><ellipse cx="1068.9" cy="86.8" rx="6.3" ry="5.5"/><ellipse cx="927.5" cy="98.8" rx="6.7" ry="5.8"/><ellipse cx="980.8" cy="97.9" rx="6.6" ry="5.8"/><ellipse cx="1020.3" cy="98.1" rx="5.4" ry="6.2"/><ellipse cx="934.9" cy="110.4" rx="6.6" ry="5.4"/><ellipse cx="962.5" cy="109.8" rx="5.5" ry="6.5"/><ellipse cx="1002.0" cy="111.0" rx="5.9" ry="6.7"/><ellipse cx="1015.5" cy="110.7" rx="5.9" ry="6.4"/><ellipse cx="1095.4" cy="109.3" rx="5.5" ry="6.3"/><ellipse cx="927.4" cy="121.0" rx="6.9" ry="5.5"/><ellipse cx="967.3" cy="122.1" rx="6.8" ry="5.3"/><ellipse cx="995.7" cy="122.8" rx="6.5" ry="5.4"/><ellipse cx="1006.9" cy="121.5" rx="6.4" ry="5.4"/><ellipse cx="1114.5" cy="120.7" rx="5.5" ry="6.3"/><ellipse cx="934.8" cy="134.0" rx="5.9" ry="6.3"/><ellipse cx="1002.7" cy="133.9" rx="5.8" ry="6.5"/><ellipse cx="1028.3" cy="133.2" rx="6.0" ry="6.7"/><ellipse cx="1041.6" cy="134.5" rx="7.0" ry="5.5"/><ellipse cx="1054.3" cy="133.6" rx="5.5" ry="6.3"/><ellipse cx="1096.0" cy="132.2" rx="6.4" ry="5.3"/><ellipse cx="1133.9" cy="132.8" rx="5.6" ry="6.7"/><ellipse cx="1149.0" cy="133.9" rx="7.0" ry="5.8"/><ellipse cx="940.4" cy="146.0" rx="5.4" ry="6.7"/><ellipse cx="1007.0" cy="145.0" rx="6.6" ry="5.8"/><ellipse cx="1035.1" cy="146.0" rx="5.5" ry="6.1"/><ellipse cx="1101.7" cy="144.0" rx="5.7" ry="6.4"/><ellipse cx="1154.2" cy="144.3" rx="6.3" ry="5.3"/><ellipse cx="949.0" cy="155.5" rx="6.5" ry="5.4"/><ellipse cx="974.3" cy="156.0" rx="6.7" ry="5.8"/><ellipse cx="1054.5" cy="157.7" rx="5.8" ry="6.6"/><ellipse cx="1080.6" cy="156.8" rx="6.8" ry="5.6"/><ellipse cx="1107.3" cy="157.4" rx="6.5" ry="5.5"/><ellipse cx="916.0" cy="169.0" rx="5.8" ry="6.8"/><ellipse cx="940.8" cy="169.3" rx="5.9" ry="6.8"/><ellipse cx="1048.6" cy="168.7" rx="7.0" ry="5.7"/><ellipse cx="1076.2" cy="169.0" rx="6.9" ry="5.8"/><ellipse cx="1115.3" cy="167.3" rx="5.8" ry="6.6"/><ellipse cx="949.6" cy="178.9" rx="6.5" ry="5.4"/><ellipse cx="1041.8" cy="178.7" rx="6.8" ry="5.6"/><ellipse cx="1082.7" cy="180.9" rx="5.6" ry="6.3"/><ellipse cx="1135.2" cy="179.5" rx="6.9" ry="5.9"/><ellipse cx="942.8" cy="190.9" rx="6.7" ry="5.8"/><ellipse cx="981.7" cy="191.3" rx="5.8" ry="6.6"/><ellipse cx="1062.8" cy="190.4" rx="6.7" ry="5.5"/><ellipse cx="1088.6" cy="190.1" rx="5.6" ry="6.5"/><ellipse cx="987.4" cy="201.3" rx="6.8" ry="5.7"/><ellipse cx="956.6" cy="212.9" rx="6.4" ry="5.4"/><ellipse cx="1101.3" cy="213.9" rx="6.6" ry="5.5"/><ellipse cx="1128.7" cy="213.7" rx="6.5" ry="5.4"/><ellipse cx="973.9" cy="225.9" rx="6.9" ry="5.4"/><ellipse cx="1000.1" cy="224.6" rx="6.7" ry="5.5"/><ellipse cx="1121.0" cy="224.2" rx="5.6" ry="6.3"/><ellipse cx="995.0" cy="236.2" rx="5.7" ry="6.3"/><ellipse cx="1062.3" cy="235.8" rx="5.8" ry="6.2"/><ellipse cx="1102.4" cy="236.9" rx="6.9" ry="5.8"/><ellipse cx="1015.5" cy="248.3" rx="5.7" ry="6.7"/><ellipse cx="1055.1" cy="249.3" rx="5.6" ry="6.7"/><ellipse cx="1080.6" cy="248.3" rx="6.0" ry="6.7"/><ellipse cx="1047.4" cy="260.3" rx="6.9" ry="5.4"/><ellipse cx="1060.5" cy="261.1" rx="6.7" ry="5.6"/><ellipse cx="1315.3" cy="22.4" rx="6.9" ry="5.4"/><ellipse cx="1335.6" cy="34.9" rx="5.8" ry="6.2"/><ellipse cx="1362.3" cy="34.4" rx="5.9" ry="6.6"/><ellipse cx="1263.3" cy="43.9" rx="5.8" ry="6.4"/><ellipse cx="1317.6" cy="44.7" rx="5.4" ry="6.6"/><ellipse cx="1344.2" cy="45.7" rx="5.8" ry="6.1"/><ellipse cx="1383.3" cy="46.3" rx="6.6" ry="5.3"/><ellipse cx="1258.2" cy="55.1" rx="6.6" ry="5.9"/><ellipse cx="1297.5" cy="55.7" rx="6.9" ry="5.7"/><ellipse cx="1336.2" cy="55.9" rx="7.0" ry="5.6"/><ellipse cx="1277.0" cy="67.7" rx="5.9" ry="6.6"/><ellipse cx="1315.5" cy="66.7" rx="6.9" ry="5.6"/><ellipse cx="1383.6" cy="68.6" rx="6.6" ry="5.9"/><ellipse cx="1397.2" cy="68.1" rx="5.5" ry="6.4"/><ellipse cx="1408.7" cy="67.9" rx="6.6" ry="5.4"/><ellipse cx="1230.6" cy="80.8" rx="7.0" ry="5.5"/><ellipse cx="1258.5" cy="78.9" rx="6.9" ry="5.7"/><ellipse cx="1323.1" cy="79.8" rx="5.6" ry="6.7"/><ellipse cx="1430.3" cy="78.6" rx="5.8" ry="6.4"/><ellipse cx="1237.4" cy="91.7" rx="6.3" ry="5.5"/><ellipse cx="1276.7" cy="89.6" rx="6.3" ry="5.5"/><ellipse cx="1342.6" cy="92.3" rx="6.7" ry="5.4"/><ellipse cx="1370.1" cy="90.1" rx="6.9" ry="5.7"/><ellipse cx="1296.9" cy="101.4" rx="6.4" ry="5.6"/><ellipse cx="1310.2" cy="103.3" rx="6.8" ry="5.5"/><ellipse cx="1377.4" cy="103.4" rx="6.7" ry="5.7"/><ellipse cx="1416.9" cy="103.8" rx="6.5" ry="5.6"/><ellipse cx="1237.2" cy="114.4" rx="5.9" ry="6.4"/><ellipse cx="1250.3" cy="113.3" rx="6.7" ry="5.9"/><ellipse cx="1264.4" cy="113.2" rx="6.9" ry="5.6"/><ellipse cx="1331.0" cy="112.9" rx="6.7" ry="5.9"/><ellipse cx="1451.3" cy="113.8" rx="5.8" ry="6.8"/><ellipse cx="1255.8" cy="126.8" rx="5.5" ry="6.6"/><ellipse cx="1310.9" cy="125.6" rx="5.8" ry="6.2"/><ellipse cx="1322.8" cy="124.8" rx="6.3" ry="5.9"/><ellipse cx="1251.5" cy="136.4" rx="6.4" ry="5.5"/><ellipse cx="1263.8" cy="137.9" rx="6.4" ry="5.7"/><ellipse cx="1291.0" cy="137.5" rx="6.7" ry="5.4"/><ellipse cx="1315.6" cy="136.2" rx="6.4" ry="5.3"/><ellipse cx="1344.8" cy="135.9" rx="6.5" ry="5.4"/><ellipse cx="1411.4" cy="136.0" rx="5.4" ry="6.5"/><ellipse cx="1422.6" cy="137.4" rx="6.5" ry="5.3"/><ellipse cx="1435.4" cy="136.4" rx="5.6" ry="6.6"/><ellipse cx="1450.8" cy="136.0" rx="6.0" ry="6.3"/><ellipse cx="1230.0" cy="147.9" rx="6.9" ry="5.5"/><ellipse cx="1271.6" cy="148.9" rx="5.9" ry="6.4"/><ellipse cx="1310.0" cy="148.6" rx="6.5" ry="5.8"/><ellipse cx="1455.4" cy="149.5" rx="6.5" ry="5.8"/><ellipse cx="1210.7" cy="160.2" rx="6.0" ry="6.3"/><ellipse cx="1249.2" cy="161.3" rx="5.6" ry="6.6"/><ellipse cx="1344.7" cy="160.1" rx="6.9" ry="5.5"/><ellipse cx="1358.0" cy="159.0" rx="6.9" ry="5.5"/><ellipse cx="1269.6" cy="171.7" rx="5.5" ry="6.1"/><ellipse cx="1283.1" cy="172.5" rx="6.7" ry="5.9"/><ellipse cx="1429.3" cy="170.9" rx="5.6" ry="6.7"/><ellipse cx="1224.3" cy="181.9" rx="6.9" ry="5.8"/><ellipse cx="1316.7" cy="181.9" rx="6.4" ry="5.6"/><ellipse cx="1423.5" cy="182.6" rx="6.3" ry="5.7"/><ellipse cx="1437.6" cy="182.8" rx="6.9" ry="5.6"/><ellipse cx="1203.4" cy="195.0" rx="6.8" ry="5.7"/><ellipse cx="1231.1" cy="193.5" rx="5.7" ry="6.5"/><ellipse cx="1256.8" cy="193.7" rx="6.8" ry="5.5"/><ellipse cx="1297.7" cy="193.5" rx="5.7" ry="6.1"/><ellipse cx="1349.2" cy="193.6" rx="6.9" ry="5.6"/><ellipse cx="1377.4" cy="195.4" rx="6.9" ry="5.6"/><ellipse cx="1415.4" cy="193.8" rx="5.8" ry="6.7"/><ellipse cx="1430.4" cy="194.0" rx="6.3" ry="5.6"/><ellipse cx="1381.9" cy="205.7" rx="6.8" ry="5.4"/><ellipse cx="1436.6" cy="206.5" rx="6.8" ry="5.8"/><ellipse cx="1215.9" cy="216.2" rx="5.9" ry="6.6"/><ellipse cx="1325.0" cy="217.5" rx="6.6" ry="5.4"/><ellipse cx="1402.7" cy="218.1" rx="5.5" ry="6.7"/><ellipse cx="1429.7" cy="218.0" rx="6.7" ry="5.6"/><ellipse cx="1249.0" cy="227.7" rx="6.4" ry="5.9"/><ellipse cx="1305.0" cy="230.3" rx="6.6" ry="5.6"/><ellipse cx="1344.1" cy="228.5" rx="5.5" ry="6.4"/><ellipse cx="1371.5" cy="229.1" rx="5.8" ry="6.7"/><ellipse cx="1422.6" cy="229.3" rx="6.7" ry="5.5"/><ellipse cx="1255.8" cy="239.3" rx="6.3" ry="5.7"/><ellipse cx="1268.8" cy="241.0" rx="5.6" ry="6.5"/><ellipse cx="1309.4" cy="241.2" rx="5.7" ry="6.7"/><ellipse cx="1325.0" cy="240.4" rx="6.7" ry="5.4"/><ellipse cx="1337.3" cy="241.0" rx="6.4" ry="5.4"/><ellipse cx="1402.9" cy="240.9" rx="6.5" ry="5.7"/><ellipse cx="1263.1" cy="252.7" rx="6.4" ry="5.5"/><ellipse cx="1289.5" cy="251.8" rx="5.5" ry="6.4"/><ellipse cx="1358.0" cy="253.0" rx="6.4" ry="5.7"/><ellipse cx="1369.5" cy="253.2" rx="5.5" ry="6.3"/><ellipse cx="1397.0" cy="250.7" rx="5.9" ry="6.8"/><ellipse cx="1335.5" cy="263.5" rx="6.6" ry="5.9"/><ellipse cx="1363.8" cy="263.1" rx="6.9" ry="5.5"/><ellipse cx="1330.6" cy="274.5" rx="5.6" ry="6.5"/><ellipse cx="1555.9" cy="33.8" rx="6.4" ry="5.7"/><ellipse cx="1610.6" cy="33.2" rx="5.9" ry="6.5"/><ellipse cx="1551.0" cy="43.3" rx="6.6" ry="5.4"/><ellipse cx="1643.7" cy="43.5" rx="6.0" ry="6.2"/><ellipse cx="1656.7" cy="44.2" rx="5.8" ry="6.3"/><ellipse cx="1636.6" cy="56.2" rx="7.0" ry="5.8"/><ellipse cx="1663.7" cy="54.2" rx="5.5" ry="6.2"/><ellipse cx="1689.2" cy="55.2" rx="6.9" ry="5.3"/><ellipse cx="1509.7" cy="67.8" rx="6.7" ry="5.6"/><ellipse cx="1551.2" cy="66.0" rx="6.4" ry="5.7"/><ellipse cx="1563.5" cy="66.6" rx="6.6" ry="5.3"/><ellipse cx="1576.6" cy="67.7" rx="6.4" ry="5.5"/><ellipse cx="1642.4" cy="67.2" rx="6.8" ry="5.5"/><ellipse cx="1696.1" cy="67.3" rx="5.8" ry="6.8"/><ellipse cx="1517.0" cy="79.4" rx="5.6" ry="6.7"/><ellipse cx="1583.0" cy="77.9" rx="6.7" ry="5.8"/><ellipse cx="1595.9" cy="77.1" rx="6.5" ry="5.7"/><ellipse cx="1550.9" cy="90.8" rx="6.3" ry="5.4"/><ellipse cx="1641.6" cy="90.7" rx="6.9" ry="5.8"/><ellipse cx="1656.2" cy="90.1" rx="5.9" ry="6.3"/><ellipse cx="1668.4" cy="90.8" rx="6.8" ry="5.5"/><ellipse cx="1503.9" cy="101.2" rx="5.7" ry="6.4"/><ellipse cx="1597.5" cy="101.9" rx="6.9" ry="5.8"/><ellipse cx="1636.2" cy="101.1" rx="6.8" ry="5.9"/><ellipse cx="1690.4" cy="100.2" rx="5.9" ry="6.7"/><ellipse cx="1715.4" cy="100.5" rx="6.5" ry="5.4"/><ellipse cx="1728.7" cy="102.8" rx="7.0" ry="5.9"/><ellipse cx="1484.3" cy="112.2" rx="6.7" ry="5.4"/><ellipse cx="1508.3" cy="114.0" rx="5.5" ry="6.3"/><ellipse cx="1522.4" cy="113.0" rx="6.4" ry="5.4"/><ellipse cx="1562.5" cy="112.7" rx="5.8" ry="6.8"/><ellipse cx="1656.3" cy="112.1" rx="6.5" ry="5.8"/><ellipse cx="1671.0" cy="112.5" rx="6.6" ry="5.5"/><ellipse cx="1709.7" cy="112.2" rx="6.9" ry="5.7"/><ellipse cx="1503.3" cy="124.3" rx="5.9" ry="6.3"/><ellipse cx="1517.5" cy="123.2" rx="6.4" ry="5.8"/><ellipse cx="1557.8" cy="125.5" rx="6.4" ry="5.8"/><ellipse cx="1623.9" cy="124.0" rx="6.8" ry="5.3"/><ellipse cx="1689.7" cy="124.9" rx="6.3" ry="5.4"/><ellipse cx="1703.0" cy="125.5" rx="6.8" ry="5.7"/><ellipse cx="1484.2" cy="134.6" rx="5.5" ry="6.6"/><ellipse cx="1508.4" cy="135.1" rx="5.8" ry="6.3"/><ellipse cx="1550.6" cy="136.2" rx="6.4" ry="5.4"/><ellipse cx="1562.6" cy="134.7" rx="5.8" ry="6.4"/><ellipse cx="1616.2" cy="136.8" rx="5.5" ry="6.5"/><ellipse cx="1629.0" cy="135.8" rx="6.5" ry="5.7"/><ellipse cx="1642.9" cy="137.1" rx="6.8" ry="5.6"/><ellipse cx="1722.4" cy="135.5" rx="6.6" ry="5.5"/><ellipse cx="1737.2" cy="136.3" rx="5.5" ry="6.7"/><ellipse cx="1544.1" cy="147.6" rx="5.5" ry="6.2"/><ellipse cx="1557.3" cy="146.6" rx="6.8" ry="5.9"/><ellipse cx="1569.6" cy="148.2" rx="6.6" ry="5.3"/><ellipse cx="1649.3" cy="146.9" rx="7.0" ry="5.7"/><ellipse cx="1728.4" cy="146.9" rx="6.9" ry="5.9"/><ellipse cx="1468.8" cy="158.8" rx="6.4" ry="5.8"/><ellipse cx="1482.8" cy="159.4" rx="5.8" ry="6.4"/><ellipse cx="1629.5" cy="158.3" rx="7.0" ry="5.4"/><ellipse cx="1641.4" cy="157.9" rx="6.8" ry="5.3"/><ellipse cx="1697.1" cy="159.4" rx="5.9" ry="6.5"/><ellipse cx="1723.2" cy="157.8" rx="5.5" ry="6.3"/><ellipse cx="1478.0" cy="170.0" rx="5.4" ry="6.3"/><ellipse cx="1582.7" cy="170.7" rx="5.9" ry="6.2"/><ellipse cx="1597.3" cy="170.8" rx="6.7" ry="5.5"/><ellipse cx="1623.4" cy="169.5" rx="6.5" ry="5.6"/><ellipse cx="1648.6" cy="169.9" rx="6.6" ry="5.3"/><ellipse cx="1689.0" cy="169.9" rx="6.8" ry="5.4"/><ellipse cx="1702.8" cy="171.3" rx="6.8" ry="5.6"/><ellipse cx="1510.0" cy="181.5" rx="6.9" ry="5.9"/><ellipse cx="1575.9" cy="182.2" rx="6.8" ry="5.5"/><ellipse cx="1603.9" cy="181.9" rx="6.7" ry="5.3"/><ellipse cx="1669.3" cy="183.0" rx="5.5" ry="6.3"/><ellipse cx="1682.8" cy="183.4" rx="6.5" ry="5.9"/><ellipse cx="1709.1" cy="182.8" rx="6.5" ry="5.4"/><ellipse cx="1542.4" cy="193.5" rx="6.5" ry="5.5"/><ellipse cx="1570.5" cy="192.6" rx="6.4" ry="5.5"/><ellipse cx="1584.0" cy="193.2" rx="5.9" ry="6.7"/><ellipse cx="1728.5" cy="194.3" rx="6.4" ry="5.7"/><ellipse cx="1510.9" cy="205.3" rx="7.0" ry="5.4"/><ellipse cx="1576.6" cy="205.1" rx="6.8" ry="5.8"/><ellipse cx="1617.0" cy="205.1" rx="5.7" ry="6.4"/><ellipse cx="1669.4" cy="204.1" rx="6.8" ry="5.4"/><ellipse cx="1694.6" cy="204.4" rx="6.5" ry="5.7"/><ellipse cx="1734.8" cy="205.2" rx="6.8" ry="5.6"/><ellipse cx="1503.9" cy="217.1" rx="6.6" ry="5.8"/><ellipse cx="1517.9" cy="217.6" rx="5.7" ry="6.6"/><ellipse cx="1530.3" cy="216.5" rx="5.5" ry="6.2"/><ellipse cx="1610.2" cy="215.2" rx="5.7" ry="6.7"/><ellipse cx="1621.6" cy="217.6" rx="6.5" ry="5.3"/><ellipse cx="1634.8" cy="216.8" rx="5.7" ry="6.2"/><ellipse cx="1648.9" cy="215.1" rx="6.6" ry="5.7"/><ellipse cx="1714.8" cy="216.3" rx="6.5" ry="5.5"/><ellipse cx="1729.9" cy="216.5" rx="7.0" ry="5.6"/><ellipse cx="1654.9" cy="228.6" rx="6.7" ry="5.4"/><ellipse cx="1668.0" cy="226.8" rx="5.5" ry="6.2"/><ellipse cx="1517.0" cy="240.5" rx="5.7" ry="6.6"/><ellipse cx="1557.3" cy="240.6" rx="6.8" ry="5.5"/><ellipse cx="1689.4" cy="239.8" rx="5.8" ry="6.2"/><ellipse cx="1562.2" cy="249.7" rx="5.7" ry="6.8"/><ellipse cx="1602.6" cy="252.0" rx="7.0" ry="5.3"/><ellipse cx="1641.8" cy="251.2" rx="5.9" ry="6.2"/><ellipse cx="1544.1" cy="261.8" rx="5.9" ry="6.3"/><ellipse cx="1569.4" cy="261.2" rx="5.7" ry="6.5"/><ellipse cx="1610.0" cy="262.6" rx="6.7" ry="5.4"/><ellipse cx="1622.4" cy="261.2" rx="6.3" ry="5.9"/><ellipse cx="1657.1" cy="273.2" rx="7.0" ry="5.9"/><ellipse cx="1901.5" cy="22.4" rx="6.5" ry="5.8"/><ellipse cx="1870.3" cy="32.8" rx="5.5" ry="6.3"/><ellipse cx="1882.6" cy="32.5" rx="5.6" ry="6.4"/><ellipse cx="1895.3" cy="33.9" rx="6.7" ry="5.8"/><ellipse cx="1910.2" cy="32.2" rx="5.7" ry="6.7"/><ellipse cx="1921.5" cy="31.8" rx="5.8" ry="6.7"/><ellipse cx="1950.2" cy="33.7" rx="6.5" ry="5.4"/><ellipse cx="1904.5" cy="44.8" rx="5.7" ry="6.1"/><ellipse cx="1914.9" cy="45.0" rx="5.4" ry="6.3"/><ellipse cx="1943.7" cy="44.0" rx="6.6" ry="5.3"/><ellipse cx="1830.2" cy="54.6" rx="6.6" ry="5.8"/><ellipse cx="1896.1" cy="55.7" rx="5.5" ry="6.2"/><ellipse cx="1936.3" cy="56.9" rx="5.5" ry="6.2"/><ellipse cx="1950.1" cy="56.2" rx="6.3" ry="5.8"/><ellipse cx="1964.1" cy="54.8" rx="6.8" ry="5.3"/><ellipse cx="1838.1" cy="66.8" rx="6.8" ry="5.6"/><ellipse cx="1851.4" cy="68.2" rx="6.6" ry="5.8"/><ellipse cx="1791.2" cy="78.9" rx="6.5" ry="5.6"/><ellipse cx="1818.0" cy="77.7" rx="5.9" ry="6.3"/><ellipse cx="1842.8" cy="79.8" rx="6.8" ry="5.8"/><ellipse cx="1868.6" cy="78.9" rx="6.0" ry="6.2"/><ellipse cx="1783.8" cy="90.8" rx="6.4" ry="5.4"/><ellipse cx="1797.1" cy="89.9" rx="5.9" ry="6.2"/><ellipse cx="1835.4" cy="91.6" rx="6.5" ry="5.4"/><ellipse cx="1878.0" cy="91.2" rx="5.4" ry="6.3"/><ellipse cx="1890.9" cy="90.7" rx="6.7" ry="5.6"/><ellipse cx="1930.4" cy="89.9" rx="5.7" ry="6.5"/><ellipse cx="1955.3" cy="91.7" rx="6.6" ry="5.4"/><ellipse cx="1994.9" cy="90.1" rx="6.7" ry="5.4"/><ellipse cx="1788.5" cy="103.0" rx="6.0" ry="6.3"/><ellipse cx="1815.9" cy="101.6" rx="5.9" ry="6.1"/><ellipse cx="1843.3" cy="101.4" rx="5.8" ry="6.3"/><ellipse cx="1857.3" cy="102.8" rx="6.6" ry="5.7"/><ellipse cx="1883.6" cy="101.3" rx="6.6" ry="5.6"/><ellipse cx="1896.0" cy="101.8" rx="6.7" ry="5.5"/><ellipse cx="1948.6" cy="101.3" rx="5.9" ry="6.1"/><ellipse cx="1988.0" cy="102.5" rx="5.5" ry="6.7"/><ellipse cx="1956.7" cy="112.2" rx="6.8" ry="5.8"/><ellipse cx="1969.1" cy="112.3" rx="6.9" ry="5.9"/><ellipse cx="1996.8" cy="113.3" rx="7.0" ry="5.8"/><ellipse cx="1817.7" cy="124.0" rx="5.7" ry="6.6"/><ellipse cx="1844.3" cy="124.7" rx="6.5" ry="5.3"/><ellipse cx="1937.0" cy="125.9" rx="6.9" ry="5.5"/><ellipse cx="1961.9" cy="125.7" rx="5.6" ry="6.6"/><ellipse cx="2014.6" cy="125.4" rx="6.8" ry="5.6"/><ellipse cx="2030.7" cy="124.8" rx="5.9" ry="6.3"/><ellipse cx="1797.2" cy="135.5" rx="6.5" ry="5.6"/><ellipse cx="1835.5" cy="135.8" rx="6.3" ry="5.7"/><ellipse cx="1876.0" cy="135.9" rx="6.9" ry="5.8"/><ellipse cx="1828.9" cy="147.9" rx="5.7" ry="6.4"/><ellipse cx="1976.8" cy="147.3" rx="5.5" ry="6.7"/><ellipse cx="1988.4" cy="148.4" rx="5.6" ry="6.2"/><ellipse cx="1836.6" cy="160.6" rx="5.7" ry="6.7"/><ellipse cx="1888.7" cy="159.5" rx="6.7" ry="5.3"/><ellipse cx="1917.4" cy="158.0" rx="6.4" ry="5.4"/><ellipse cx="1816.2" cy="171.9" rx="6.8" ry="5.8"/><ellipse cx="1935.6" cy="169.7" rx="6.9" ry="5.4"/><ellipse cx="2016.8" cy="170.4" rx="6.4" ry="5.4"/><ellipse cx="1824.7" cy="183.4" rx="6.9" ry="5.8"/><ellipse cx="1890.1" cy="181.9" rx="6.5" ry="5.3"/><ellipse cx="1942.2" cy="182.5" rx="6.9" ry="5.8"/><ellipse cx="1981.9" cy="182.8" rx="5.5" ry="6.8"/><ellipse cx="1997.6" cy="181.3" rx="6.9" ry="5.5"/><ellipse cx="1790.6" cy="194.1" rx="6.9" ry="5.7"/><ellipse cx="1802.6" cy="194.0" rx="5.9" ry="6.6"/><ellipse cx="1868.5" cy="194.0" rx="6.6" ry="5.5"/><ellipse cx="1884.1" cy="194.5" rx="6.6" ry="5.3"/><ellipse cx="1961.6" cy="193.4" rx="6.3" ry="5.8"/><ellipse cx="1824.0" cy="206.7" rx="5.6" ry="6.6"/><ellipse cx="1889.8" cy="203.9" rx="6.6" ry="5.5"/><ellipse cx="1903.4" cy="206.6" rx="5.5" ry="6.3"/><ellipse cx="1914.8" cy="204.5" rx="6.7" ry="5.8"/><ellipse cx="1928.1" cy="204.0" rx="6.9" ry="5.6"/><ellipse cx="1942.9" cy="206.7" rx="6.7" ry="5.8"/><ellipse cx="1981.9" cy="205.8" rx="6.7" ry="5.4"/><ellipse cx="1996.7" cy="205.9" rx="6.5" ry="5.9"/><ellipse cx="1801.8" cy="218.1" rx="6.6" ry="5.7"/><ellipse cx="1817.4" cy="218.1" rx="5.7" ry="6.8"/><ellipse cx="1856.4" cy="217.6" rx="6.9" ry="5.6"/><ellipse cx="1977.5" cy="216.5" rx="6.5" ry="5.9"/><ellipse cx="1988.5" cy="216.2" rx="5.6" ry="6.4"/><ellipse cx="2004.2" cy="218.1" rx="7.0" ry="5.6"/><ellipse cx="1837.1" cy="228.6" rx="6.6" ry="5.6"/><ellipse cx="1891.1" cy="228.6" rx="5.8" ry="6.2"/><ellipse cx="1915.0" cy="227.5" rx="6.4" ry="5.6"/><ellipse cx="1929.1" cy="228.5" rx="5.5" ry="6.2"/><ellipse cx="1944.4" cy="227.9" rx="6.5" ry="5.5"/><ellipse cx="1828.7" cy="240.0" rx="6.6" ry="5.9"/><ellipse cx="1858.0" cy="239.5" rx="6.4" ry="5.7"/><ellipse cx="1963.3" cy="239.8" rx="5.5" ry="6.4"/><ellipse cx="1976.4" cy="240.9" rx="6.6" ry="5.5"/><ellipse cx="1890.4" cy="252.4" rx="6.5" ry="5.4"/><ellipse cx="1941.7" cy="250.7" rx="5.6" ry="6.2"/><ellipse cx="1884.3" cy="263.5" rx="6.7" ry="5.6"/></g>
<g fill="url(#sf)"><ellipse cx="1000.5" cy="42.1" rx="6.6" ry="5.5"/><ellipse cx="1021.3" cy="52.7" rx="6.5" ry="5.5"/><ellipse cx="1046.9" cy="53.8" rx="5.5" ry="6.8"/><ellipse cx="1027.1" cy="65.4" rx="6.4" ry="5.5"/><ellipse cx="1081.2" cy="65.9" rx="6.7" ry="5.8"/><ellipse cx="1094.4" cy="64.3" rx="5.6" ry="6.1"/><ellipse cx="1106.8" cy="65.3" rx="6.3" ry="5.4"/><ellipse cx="956.1" cy="76.0" rx="7.0" ry="5.3"/><ellipse cx="968.7" cy="76.2" rx="6.8" ry="5.7"/><ellipse cx="1035.4" cy="77.2" rx="5.5" ry="6.3"/><ellipse cx="934.4" cy="88.7" rx="6.8" ry="5.6"/><ellipse cx="1108.1" cy="88.5" rx="5.8" ry="6.4"/><ellipse cx="1008.4" cy="98.7" rx="6.7" ry="5.6"/><ellipse cx="1088.0" cy="98.0" rx="6.4" ry="5.6"/><ellipse cx="1102.9" cy="99.7" rx="6.7" ry="5.8"/><ellipse cx="1139.9" cy="99.0" rx="6.8" ry="5.4"/><ellipse cx="1108.6" cy="111.7" rx="5.7" ry="6.8"/><ellipse cx="1121.7" cy="110.4" rx="5.8" ry="6.6"/><ellipse cx="916.7" cy="122.0" rx="6.8" ry="5.9"/><ellipse cx="941.3" cy="121.5" rx="6.7" ry="5.5"/><ellipse cx="1022.1" cy="123.3" rx="5.9" ry="6.3"/><ellipse cx="1073.7" cy="122.6" rx="6.7" ry="5.8"/><ellipse cx="1087.9" cy="121.2" rx="5.9" ry="6.7"/><ellipse cx="1140.4" cy="121.4" rx="6.6" ry="5.3"/><ellipse cx="923.1" cy="134.5" rx="6.0" ry="6.7"/><ellipse cx="1080.4" cy="134.0" rx="5.7" ry="6.4"/><ellipse cx="914.5" cy="143.8" rx="5.6" ry="6.5"/><ellipse cx="927.1" cy="144.8" rx="6.8" ry="5.4"/><ellipse cx="1020.9" cy="145.4" rx="5.5" ry="6.1"/><ellipse cx="1114.2" cy="144.9" rx="6.0" ry="6.7"/><ellipse cx="1002.0" cy="157.3" rx="5.8" ry="6.4"/><ellipse cx="1029.6" cy="155.7" rx="6.6" ry="5.7"/><ellipse cx="1040.4" cy="156.9" rx="5.5" ry="6.8"/><ellipse cx="1067.3" cy="156.5" rx="6.7" ry="5.8"/><ellipse cx="1149.3" cy="155.7" rx="5.8" ry="6.7"/><ellipse cx="928.4" cy="167.3" rx="6.7" ry="5.7"/><ellipse cx="1035.3" cy="169.2" rx="6.6" ry="5.8"/><ellipse cx="1102.8" cy="167.6" rx="6.4" ry="5.7"/><ellipse cx="1154.5" cy="166.9" rx="6.4" ry="5.6"/><ellipse cx="921.6" cy="178.7" rx="5.7" ry="6.6"/><ellipse cx="973.5" cy="179.8" rx="6.6" ry="5.7"/><ellipse cx="987.5" cy="179.0" rx="7.0" ry="5.7"/><ellipse cx="1148.1" cy="179.7" rx="6.3" ry="5.5"/><ellipse cx="927.9" cy="190.1" rx="6.5" ry="5.8"/><ellipse cx="953.8" cy="191.3" rx="6.9" ry="5.3"/><ellipse cx="967.8" cy="191.5" rx="6.5" ry="5.4"/><ellipse cx="1020.1" cy="190.9" rx="5.6" ry="6.4"/><ellipse cx="1075.2" cy="192.3" rx="6.8" ry="5.4"/><ellipse cx="1102.6" cy="190.9" rx="7.0" ry="5.9"/><ellipse cx="1114.0" cy="189.8" rx="5.5" ry="6.4"/><ellipse cx="1129.0" cy="191.0" rx="6.8" ry="5.8"/><ellipse cx="934.1" cy="203.4" rx="5.5" ry="6.1"/><ellipse cx="961.0" cy="201.8" rx="5.4" ry="6.2"/><ellipse cx="975.1" cy="203.7" rx="6.5" ry="5.9"/><ellipse cx="1002.2" cy="201.9" rx="6.5" ry="5.9"/><ellipse cx="1014.7" cy="203.3" rx="5.9" ry="6.3"/><ellipse cx="1041.3" cy="203.7" rx="5.8" ry="6.3"/><ellipse cx="1053.3" cy="203.8" rx="6.4" ry="5.6"/><ellipse cx="1081.8" cy="202.9" rx="6.6" ry="5.6"/><ellipse cx="1106.9" cy="203.8" rx="6.4" ry="5.8"/><ellipse cx="1133.6" cy="201.9" rx="6.4" ry="5.8"/><ellipse cx="942.2" cy="213.5" rx="6.6" ry="5.8"/><ellipse cx="1009.3" cy="215.0" rx="5.5" ry="6.3"/><ellipse cx="1061.1" cy="212.8" rx="6.5" ry="5.9"/><ellipse cx="960.1" cy="226.9" rx="6.8" ry="5.4"/><ellipse cx="1107.6" cy="226.4" rx="5.7" ry="6.8"/><ellipse cx="968.3" cy="236.7" rx="6.6" ry="5.5"/><ellipse cx="1007.2" cy="236.1" rx="6.8" ry="5.7"/><ellipse cx="1049.6" cy="236.1" rx="6.8" ry="5.4"/><ellipse cx="975.4" cy="248.4" rx="6.8" ry="5.9"/><ellipse cx="1041.0" cy="247.6" rx="6.6" ry="5.8"/><ellipse cx="1066.9" cy="247.3" rx="6.9" ry="5.6"/><ellipse cx="1022.6" cy="261.1" rx="6.3" ry="5.6"/><ellipse cx="1278.5" cy="45.6" rx="6.8" ry="5.6"/><ellipse cx="1289.6" cy="44.2" rx="6.4" ry="5.7"/><ellipse cx="1302.9" cy="45.4" rx="5.5" ry="6.2"/><ellipse cx="1331.2" cy="45.9" rx="5.9" ry="6.7"/><ellipse cx="1244.9" cy="55.8" rx="6.4" ry="5.5"/><ellipse cx="1284.9" cy="56.2" rx="5.8" ry="6.7"/><ellipse cx="1311.4" cy="56.0" rx="5.4" ry="6.5"/><ellipse cx="1322.0" cy="55.3" rx="6.4" ry="5.8"/><ellipse cx="1349.4" cy="57.5" rx="6.7" ry="5.9"/><ellipse cx="1403.4" cy="55.9" rx="6.4" ry="5.8"/><ellipse cx="1238.4" cy="68.6" rx="5.6" ry="6.6"/><ellipse cx="1250.9" cy="68.6" rx="6.4" ry="5.4"/><ellipse cx="1302.1" cy="69.2" rx="6.5" ry="5.5"/><ellipse cx="1344.4" cy="69.0" rx="6.0" ry="6.6"/><ellipse cx="1370.0" cy="68.4" rx="6.8" ry="5.7"/><ellipse cx="1424.6" cy="69.3" rx="6.7" ry="5.7"/><ellipse cx="1270.9" cy="80.9" rx="6.9" ry="5.5"/><ellipse cx="1283.6" cy="80.4" rx="7.0" ry="5.5"/><ellipse cx="1297.6" cy="80.3" rx="6.4" ry="5.4"/><ellipse cx="1336.6" cy="80.1" rx="5.7" ry="6.5"/><ellipse cx="1350.7" cy="78.5" rx="6.6" ry="5.5"/><ellipse cx="1375.1" cy="80.3" rx="5.6" ry="6.5"/><ellipse cx="1415.4" cy="78.5" rx="5.9" ry="6.6"/><ellipse cx="1225.3" cy="89.7" rx="6.4" ry="5.8"/><ellipse cx="1291.0" cy="91.8" rx="6.4" ry="5.8"/><ellipse cx="1382.7" cy="92.3" rx="5.8" ry="6.5"/><ellipse cx="1410.5" cy="90.3" rx="5.7" ry="6.8"/><ellipse cx="1422.5" cy="91.3" rx="6.7" ry="5.6"/><ellipse cx="1256.2" cy="101.8" rx="5.6" ry="6.6"/><ellipse cx="1284.8" cy="103.4" rx="6.0" ry="6.3"/><ellipse cx="1349.7" cy="101.3" rx="6.5" ry="5.9"/><ellipse cx="1364.0" cy="103.6" rx="6.6" ry="5.3"/><ellipse cx="1404.0" cy="102.2" rx="6.7" ry="5.3"/><ellipse cx="1442.1" cy="102.5" rx="6.9" ry="5.5"/><ellipse cx="1302.3" cy="114.6" rx="6.5" ry="5.5"/><ellipse cx="1318.0" cy="113.7" rx="6.4" ry="5.8"/><ellipse cx="1422.4" cy="113.7" rx="5.5" ry="6.5"/><ellipse cx="1435.1" cy="114.7" rx="5.8" ry="6.6"/><ellipse cx="1217.7" cy="126.7" rx="6.3" ry="5.5"/><ellipse cx="1230.4" cy="125.3" rx="6.6" ry="5.8"/><ellipse cx="1270.1" cy="126.7" rx="5.7" ry="6.3"/><ellipse cx="1283.2" cy="125.8" rx="5.5" ry="6.3"/><ellipse cx="1349.9" cy="124.8" rx="5.5" ry="6.7"/><ellipse cx="1375.4" cy="126.5" rx="5.6" ry="6.4"/><ellipse cx="1404.3" cy="124.7" rx="6.8" ry="5.7"/><ellipse cx="1416.4" cy="124.5" rx="6.8" ry="5.4"/><ellipse cx="1431.2" cy="125.3" rx="5.6" ry="6.2"/><ellipse cx="1210.6" cy="138.2" rx="5.6" ry="6.5"/><ellipse cx="1224.3" cy="138.2" rx="6.4" ry="5.8"/><ellipse cx="1304.7" cy="137.4" rx="6.4" ry="5.7"/><ellipse cx="1384.2" cy="135.7" rx="6.8" ry="5.7"/><ellipse cx="1397.5" cy="136.5" rx="5.9" ry="6.1"/><ellipse cx="1284.8" cy="148.8" rx="5.8" ry="6.4"/><ellipse cx="1296.2" cy="149.2" rx="6.9" ry="5.9"/><ellipse cx="1323.0" cy="149.6" rx="6.9" ry="5.4"/><ellipse cx="1390.0" cy="148.7" rx="6.6" ry="5.5"/><ellipse cx="1403.9" cy="149.1" rx="6.8" ry="5.6"/><ellipse cx="1237.5" cy="160.2" rx="5.4" ry="6.1"/><ellipse cx="1263.4" cy="159.3" rx="5.8" ry="6.1"/><ellipse cx="1289.6" cy="158.9" rx="6.0" ry="6.2"/><ellipse cx="1318.2" cy="161.2" rx="5.4" ry="6.3"/><ellipse cx="1395.6" cy="160.3" rx="5.8" ry="6.5"/><ellipse cx="1435.8" cy="159.5" rx="6.4" ry="5.5"/><ellipse cx="1449.3" cy="160.7" rx="5.5" ry="6.6"/><ellipse cx="1203.9" cy="170.7" rx="6.3" ry="5.4"/><ellipse cx="1296.1" cy="171.2" rx="6.5" ry="5.5"/><ellipse cx="1323.1" cy="171.7" rx="5.6" ry="6.6"/><ellipse cx="1329.1" cy="184.1" rx="6.8" ry="5.5"/><ellipse cx="1344.7" cy="182.3" rx="5.5" ry="6.4"/><ellipse cx="1357.5" cy="183.1" rx="6.7" ry="5.7"/><ellipse cx="1370.1" cy="184.1" rx="5.5" ry="6.3"/><ellipse cx="1381.9" cy="183.5" rx="5.9" ry="6.2"/><ellipse cx="1323.8" cy="193.1" rx="6.7" ry="5.5"/><ellipse cx="1442.0" cy="193.5" rx="5.5" ry="6.2"/><ellipse cx="1237.1" cy="205.9" rx="5.9" ry="6.2"/><ellipse cx="1275.9" cy="205.2" rx="5.9" ry="6.4"/><ellipse cx="1290.8" cy="207.2" rx="6.3" ry="5.8"/><ellipse cx="1304.5" cy="206.7" rx="6.8" ry="5.4"/><ellipse cx="1328.7" cy="204.9" rx="5.8" ry="6.5"/><ellipse cx="1342.8" cy="206.6" rx="6.3" ry="5.3"/><ellipse cx="1395.5" cy="206.6" rx="6.5" ry="5.4"/><ellipse cx="1422.3" cy="205.9" rx="7.0" ry="5.6"/><ellipse cx="1243.0" cy="218.4" rx="6.0" ry="6.8"/><ellipse cx="1256.8" cy="216.7" rx="5.7" ry="6.6"/><ellipse cx="1284.0" cy="217.0" rx="6.6" ry="5.5"/><ellipse cx="1295.6" cy="218.6" rx="6.8" ry="5.4"/><ellipse cx="1310.8" cy="216.2" rx="6.7" ry="5.8"/><ellipse cx="1337.5" cy="217.2" rx="5.9" ry="6.1"/><ellipse cx="1236.2" cy="228.2" rx="6.7" ry="5.8"/><ellipse cx="1265.2" cy="229.3" rx="5.9" ry="6.2"/><ellipse cx="1397.6" cy="228.7" rx="6.4" ry="5.9"/><ellipse cx="1350.8" cy="241.0" rx="6.5" ry="5.6"/><ellipse cx="1302.4" cy="252.1" rx="5.6" ry="6.7"/><ellipse cx="1349.2" cy="262.2" rx="6.6" ry="5.5"/><ellipse cx="1569.2" cy="32.6" rx="5.7" ry="6.2"/><ellipse cx="1581.5" cy="31.4" rx="5.4" ry="6.7"/><ellipse cx="1562.0" cy="45.1" rx="5.6" ry="6.5"/><ellipse cx="1682.4" cy="43.6" rx="5.7" ry="6.7"/><ellipse cx="1570.2" cy="56.1" rx="6.7" ry="5.8"/><ellipse cx="1649.1" cy="56.3" rx="5.8" ry="6.4"/><ellipse cx="1675.8" cy="56.6" rx="5.5" ry="6.5"/><ellipse cx="1497.9" cy="66.4" rx="6.4" ry="5.9"/><ellipse cx="1536.0" cy="67.9" rx="5.7" ry="6.6"/><ellipse cx="1588.8" cy="67.1" rx="6.8" ry="5.8"/><ellipse cx="1555.9" cy="77.9" rx="6.0" ry="6.5"/><ellipse cx="1611.2" cy="78.6" rx="6.8" ry="5.8"/><ellipse cx="1651.0" cy="77.3" rx="5.5" ry="6.4"/><ellipse cx="1702.5" cy="78.2" rx="6.9" ry="5.3"/><ellipse cx="1483.0" cy="91.2" rx="6.4" ry="5.8"/><ellipse cx="1536.6" cy="89.2" rx="7.0" ry="5.8"/><ellipse cx="1589.1" cy="90.2" rx="6.6" ry="5.4"/><ellipse cx="1617.2" cy="90.9" rx="6.4" ry="5.3"/><ellipse cx="1708.2" cy="89.5" rx="6.4" ry="5.5"/><ellipse cx="1490.0" cy="101.3" rx="6.7" ry="5.7"/><ellipse cx="1515.2" cy="101.7" rx="6.4" ry="5.3"/><ellipse cx="1675.7" cy="102.0" rx="6.4" ry="5.7"/><ellipse cx="1701.4" cy="102.2" rx="6.8" ry="5.7"/><ellipse cx="1497.2" cy="114.3" rx="5.6" ry="6.7"/><ellipse cx="1642.9" cy="113.4" rx="6.5" ry="5.5"/><ellipse cx="1682.1" cy="111.8" rx="5.6" ry="6.5"/><ellipse cx="1735.5" cy="112.6" rx="6.4" ry="5.6"/><ellipse cx="1490.4" cy="123.9" rx="5.6" ry="6.5"/><ellipse cx="1715.3" cy="123.9" rx="7.0" ry="5.4"/><ellipse cx="1743.6" cy="124.1" rx="6.7" ry="5.3"/><ellipse cx="1535.1" cy="134.8" rx="6.3" ry="5.4"/><ellipse cx="1574.9" cy="135.5" rx="6.6" ry="5.8"/><ellipse cx="1697.4" cy="136.4" rx="5.5" ry="6.6"/><ellipse cx="1475.6" cy="148.3" rx="6.7" ry="5.7"/><ellipse cx="1489.5" cy="148.1" rx="6.7" ry="5.5"/><ellipse cx="1584.2" cy="146.1" rx="5.6" ry="6.3"/><ellipse cx="1595.0" cy="146.5" rx="5.9" ry="6.5"/><ellipse cx="1624.2" cy="148.9" rx="6.9" ry="5.7"/><ellipse cx="1689.7" cy="147.1" rx="7.0" ry="5.7"/><ellipse cx="1537.5" cy="159.1" rx="6.5" ry="5.4"/><ellipse cx="1577.0" cy="157.6" rx="6.5" ry="5.7"/><ellipse cx="1604.1" cy="160.2" rx="5.9" ry="6.1"/><ellipse cx="1668.1" cy="159.7" rx="6.5" ry="5.4"/><ellipse cx="1683.4" cy="158.9" rx="7.0" ry="5.8"/><ellipse cx="1735.9" cy="158.6" rx="5.8" ry="6.3"/><ellipse cx="1490.3" cy="171.5" rx="6.4" ry="5.3"/><ellipse cx="1503.8" cy="171.5" rx="6.7" ry="5.6"/><ellipse cx="1515.6" cy="170.2" rx="6.4" ry="5.7"/><ellipse cx="1716.5" cy="169.3" rx="6.7" ry="5.5"/><ellipse cx="1741.6" cy="171.5" rx="6.5" ry="5.7"/><ellipse cx="1549.8" cy="181.5" rx="6.9" ry="5.3"/><ellipse cx="1589.6" cy="181.6" rx="7.0" ry="5.4"/><ellipse cx="1628.8" cy="183.2" rx="6.6" ry="5.6"/><ellipse cx="1734.4" cy="182.3" rx="6.3" ry="5.6"/><ellipse cx="1476.2" cy="194.3" rx="6.5" ry="5.4"/><ellipse cx="1503.4" cy="193.7" rx="6.8" ry="5.6"/><ellipse cx="1531.4" cy="193.9" rx="5.9" ry="6.6"/><ellipse cx="1649.8" cy="193.6" rx="6.4" ry="5.5"/><ellipse cx="1663.7" cy="194.6" rx="6.0" ry="6.5"/><ellipse cx="1482.8" cy="205.6" rx="6.9" ry="5.8"/><ellipse cx="1495.2" cy="205.6" rx="6.7" ry="5.8"/><ellipse cx="1549.5" cy="203.7" rx="5.5" ry="6.7"/><ellipse cx="1682.9" cy="205.4" rx="5.8" ry="6.7"/><ellipse cx="1722.3" cy="203.6" rx="6.9" ry="5.4"/><ellipse cx="1490.1" cy="217.4" rx="5.7" ry="6.7"/><ellipse cx="1556.6" cy="217.9" rx="5.9" ry="6.5"/><ellipse cx="1582.7" cy="217.9" rx="6.5" ry="5.6"/><ellipse cx="1594.9" cy="216.7" rx="6.7" ry="5.8"/><ellipse cx="1522.6" cy="227.9" rx="7.0" ry="5.8"/><ellipse cx="1549.2" cy="226.6" rx="7.0" ry="5.6"/><ellipse cx="1604.0" cy="228.8" rx="6.5" ry="5.3"/><ellipse cx="1616.4" cy="227.2" rx="6.7" ry="5.6"/><ellipse cx="1683.7" cy="228.0" rx="5.5" ry="6.4"/><ellipse cx="1710.1" cy="228.1" rx="6.9" ry="5.8"/><ellipse cx="1568.6" cy="240.0" rx="6.9" ry="5.3"/><ellipse cx="1582.4" cy="238.2" rx="6.9" ry="5.7"/><ellipse cx="1622.4" cy="238.8" rx="5.4" ry="6.6"/><ellipse cx="1677.3" cy="240.6" rx="6.6" ry="5.7"/><ellipse cx="1668.0" cy="251.2" rx="6.5" ry="5.3"/><ellipse cx="1684.1" cy="251.5" rx="5.5" ry="6.4"/><ellipse cx="1530.0" cy="262.4" rx="6.5" ry="5.4"/><ellipse cx="1636.8" cy="262.2" rx="5.6" ry="6.7"/><ellipse cx="1675.1" cy="263.3" rx="7.0" ry="5.5"/><ellipse cx="1576.8" cy="274.6" rx="6.8" ry="5.6"/><ellipse cx="1588.3" cy="273.1" rx="6.8" ry="5.7"/><ellipse cx="1617.2" cy="274.7" rx="6.7" ry="5.8"/><ellipse cx="1629.3" cy="275.3" rx="6.5" ry="5.9"/><ellipse cx="1835.3" cy="43.8" rx="6.5" ry="5.8"/><ellipse cx="1863.8" cy="44.1" rx="5.9" ry="6.1"/><ellipse cx="1876.9" cy="44.5" rx="6.7" ry="5.5"/><ellipse cx="1957.4" cy="45.4" rx="7.0" ry="5.6"/><ellipse cx="1970.1" cy="45.6" rx="5.8" ry="6.3"/><ellipse cx="1871.0" cy="55.8" rx="6.7" ry="5.9"/><ellipse cx="1909.6" cy="54.7" rx="6.4" ry="5.6"/><ellipse cx="1876.3" cy="68.5" rx="6.4" ry="5.6"/><ellipse cx="1983.6" cy="68.6" rx="5.5" ry="6.4"/><ellipse cx="1883.3" cy="77.7" rx="5.7" ry="6.2"/><ellipse cx="1911.3" cy="79.4" rx="6.6" ry="5.6"/><ellipse cx="1922.6" cy="80.0" rx="5.9" ry="6.8"/><ellipse cx="1849.6" cy="90.0" rx="7.0" ry="5.7"/><ellipse cx="1864.2" cy="90.9" rx="5.8" ry="6.4"/><ellipse cx="1969.2" cy="91.3" rx="6.7" ry="5.8"/><ellipse cx="1830.0" cy="102.3" rx="6.9" ry="5.8"/><ellipse cx="1869.3" cy="100.4" rx="6.4" ry="5.8"/><ellipse cx="1975.9" cy="102.0" rx="5.8" ry="6.5"/><ellipse cx="1836.3" cy="112.7" rx="6.3" ry="5.8"/><ellipse cx="1864.1" cy="114.1" rx="6.6" ry="5.4"/><ellipse cx="1889.4" cy="112.3" rx="6.7" ry="5.8"/><ellipse cx="1982.0" cy="114.1" rx="6.4" ry="5.8"/><ellipse cx="1776.7" cy="125.6" rx="7.0" ry="5.5"/><ellipse cx="1788.8" cy="123.6" rx="6.6" ry="5.7"/><ellipse cx="1801.9" cy="123.5" rx="5.7" ry="6.5"/><ellipse cx="1856.8" cy="126.1" rx="5.5" ry="6.4"/><ellipse cx="1869.7" cy="123.5" rx="7.0" ry="5.4"/><ellipse cx="1883.1" cy="124.8" rx="5.7" ry="6.7"/><ellipse cx="1910.2" cy="125.1" rx="6.9" ry="5.7"/><ellipse cx="1948.2" cy="123.6" rx="6.5" ry="5.5"/><ellipse cx="1976.2" cy="123.6" rx="7.0" ry="5.3"/><ellipse cx="1990.5" cy="125.7" rx="5.9" ry="6.5"/><ellipse cx="1771.3" cy="135.5" rx="6.9" ry="5.6"/><ellipse cx="1810.7" cy="137.3" rx="5.5" ry="6.2"/><ellipse cx="1890.8" cy="135.9" rx="6.3" ry="5.5"/><ellipse cx="1914.9" cy="137.6" rx="5.6" ry="6.5"/><ellipse cx="1955.0" cy="135.0" rx="6.5" ry="5.8"/><ellipse cx="1910.1" cy="148.1" rx="5.7" ry="6.3"/><ellipse cx="1922.9" cy="148.4" rx="6.9" ry="5.4"/><ellipse cx="1942.7" cy="159.2" rx="6.5" ry="5.5"/><ellipse cx="1803.7" cy="172.2" rx="6.4" ry="5.3"/><ellipse cx="1844.5" cy="170.0" rx="6.9" ry="5.4"/><ellipse cx="1857.6" cy="169.8" rx="6.8" ry="5.9"/><ellipse cx="1868.9" cy="172.0" rx="6.0" ry="6.5"/><ellipse cx="1949.3" cy="171.2" rx="5.7" ry="6.1"/><ellipse cx="1769.9" cy="183.5" rx="5.5" ry="6.6"/><ellipse cx="1809.5" cy="181.2" rx="5.6" ry="6.2"/><ellipse cx="1837.4" cy="183.6" rx="5.8" ry="6.7"/><ellipse cx="1861.7" cy="181.2" rx="5.5" ry="6.8"/><ellipse cx="1875.5" cy="183.1" rx="5.8" ry="6.7"/><ellipse cx="1902.9" cy="181.3" rx="5.5" ry="6.2"/><ellipse cx="1775.1" cy="194.9" rx="7.0" ry="5.5"/><ellipse cx="1974.9" cy="194.9" rx="5.6" ry="6.3"/><ellipse cx="1989.5" cy="192.8" rx="6.6" ry="5.9"/><ellipse cx="1783.3" cy="206.6" rx="6.9" ry="5.4"/><ellipse cx="1809.1" cy="204.6" rx="5.9" ry="6.7"/><ellipse cx="1877.6" cy="206.4" rx="5.8" ry="6.4"/><ellipse cx="1955.8" cy="204.2" rx="6.9" ry="5.7"/><ellipse cx="1971.1" cy="204.8" rx="5.6" ry="6.5"/><ellipse cx="2009.7" cy="205.9" rx="5.8" ry="6.6"/><ellipse cx="1828.5" cy="216.5" rx="5.4" ry="6.5"/><ellipse cx="1883.2" cy="216.0" rx="6.0" ry="6.1"/><ellipse cx="1923.8" cy="218.1" rx="5.8" ry="6.3"/><ellipse cx="1948.2" cy="215.5" rx="6.8" ry="5.4"/><ellipse cx="1964.2" cy="217.4" rx="5.5" ry="6.4"/><ellipse cx="1877.0" cy="229.7" rx="5.4" ry="6.1"/><ellipse cx="1995.1" cy="229.0" rx="6.6" ry="5.3"/><ellipse cx="1816.8" cy="241.0" rx="6.8" ry="5.7"/><ellipse cx="1871.0" cy="238.4" rx="6.8" ry="5.3"/><ellipse cx="1896.9" cy="238.5" rx="6.8" ry="5.4"/><ellipse cx="1922.0" cy="240.5" rx="5.7" ry="6.3"/><ellipse cx="1950.2" cy="240.2" rx="7.0" ry="5.5"/><ellipse cx="1848.7" cy="251.5" rx="5.7" ry="6.4"/><ellipse cx="1877.1" cy="250.3" rx="7.0" ry="5.4"/><ellipse cx="1915.4" cy="251.3" rx="6.4" ry="5.8"/><ellipse cx="1929.1" cy="251.7" rx="7.0" ry="5.3"/><ellipse cx="1971.1" cy="252.5" rx="6.6" ry="5.7"/><ellipse cx="1895.0" cy="262.0" rx="6.0" ry="6.8"/><ellipse cx="1908.9" cy="263.1" rx="6.7" ry="5.8"/></g>
<g fill="#fff">
<text x="901" y="292.5" fill="#fff">Jack</text>
<text x="1125" y="292.5" fill="#fff">CR1-S<tspan font-style="italic">MS6</tspan></text>
<text x="1417.5" y="292.5" fill="#fff">CR2-<tspan font-style="italic">SMS6</tspan></text>
<text x="1738.5" y="292.5" fill="#fff">CR3-<tspan font-style="italic">SMS6</tspan></text>
<rect x="2015.5" y="281" width="21.3" height="6.4"/>
</g>
<rect x="997.8" y="420.3" width="28.5" height="126.1" fill="#D3D3D3"/>
<rect x="1037" y="393.1" width="28.5" height="153.3" fill="#C7DCF6"/>
<rect x="1076.3" y="394.9" width="28.5" height="151.5" fill="#93C0F6"/>
<rect x="1115.8" y="391" width="28.5" height="155.4" fill="#559FF9"/>
<g fill="#000"><circle cx="1006.2" cy="409.4" r="2"/><circle cx="1012" cy="411.3" r="2"/><circle cx="1017.1" cy="412.6" r="2"/><circle cx="1006.2" cy="414.5" r="2"/><circle cx="1012" cy="415.1" r="2"/><circle cx="1017.1" cy="414.5" r="2"/><circle cx="1006.2" cy="419" r="2"/><circle cx="1017.8" cy="419.6" r="2"/><circle cx="1000.5" cy="426" r="2"/><circle cx="1006.2" cy="426" r="2"/><circle cx="1012" cy="426" r="2"/><circle cx="1017.8" cy="426" r="2"/><circle cx="1023.5" cy="426" r="2"/><circle cx="1006.2" cy="430.5" r="2"/><circle cx="1012" cy="429.9" r="2"/><circle cx="1017.8" cy="429.9" r="2"/><circle cx="1023.5" cy="428.6" r="2"/><circle cx="1009.4" cy="421.5" r="2"/><circle cx="1051.3" cy="357.4" r="2"/><circle cx="1051.3" cy="377.3" r="2"/><circle cx="1039.6" cy="390.1" r="2"/><circle cx="1045.4" cy="391.4" r="2"/><circle cx="1056.9" cy="391.4" r="2"/><circle cx="1062.7" cy="390.1" r="2"/><circle cx="1039.6" cy="397.8" r="2"/><circle cx="1045.4" cy="397.2" r="2"/><circle cx="1056.9" cy="397.8" r="2"/><circle cx="1062.7" cy="397.2" r="2"/><circle cx="1045.4" cy="400.4" r="2"/><circle cx="1056.9" cy="401" r="2"/><circle cx="1045.4" cy="403.6" r="2"/><circle cx="1056.9" cy="403.6" r="2"/><circle cx="1045.4" cy="406.2" r="2"/><circle cx="1051.3" cy="406.2" r="2"/><circle cx="1056.9" cy="406.2" r="2"/><circle cx="1090.6" cy="379.2" r="2"/><circle cx="1078.7" cy="390.8" r="2"/><circle cx="1085.1" cy="388.8" r="2"/><circle cx="1096" cy="388.2" r="2"/><circle cx="1101.7" cy="386.9" r="2"/><circle cx="1101.7" cy="391.4" r="2"/><circle cx="1078.7" cy="401.7" r="2"/><circle cx="1085.1" cy="397.2" r="2"/><circle cx="1096" cy="397.2" r="2"/><circle cx="1101.7" cy="403" r="2"/><circle cx="1085.1" cy="405.5" r="2"/><circle cx="1090.6" cy="407.4" r="2"/><circle cx="1096" cy="405.5" r="2"/><circle cx="1085.1" cy="410.6" r="2"/><circle cx="1096" cy="410.6" r="2"/><circle cx="1126.2" cy="369.6" r="2"/><circle cx="1133.8" cy="372.2" r="2"/><circle cx="1126.2" cy="374.1" r="2"/><circle cx="1133.8" cy="376.7" r="2"/><circle cx="1126.2" cy="377.3" r="2"/><circle cx="1118.5" cy="392.7" r="2"/><circle cx="1141.5" cy="388.2" r="2"/><circle cx="1141.5" cy="392.7" r="2"/><circle cx="1126.2" cy="390.8" r="2"/><circle cx="1133.8" cy="390.8" r="2"/><circle cx="1126.2" cy="394.6" r="2"/><circle cx="1133.8" cy="394.6" r="2"/><circle cx="1126.2" cy="398.5" r="2"/><circle cx="1133.8" cy="398.5" r="2"/><circle cx="1126.2" cy="401" r="2"/><circle cx="1133.8" cy="401" r="2"/><circle cx="1139.6" cy="404.2" r="2"/><circle cx="1126.2" cy="408.7" r="2"/><circle cx="1133.8" cy="408.1" r="2"/><circle cx="1130" cy="416.4" r="2"/><circle cx="1130" cy="430.5" r="2"/></g>
<path d="M1012 411.5V429.8M1005.5 411.5H1018.5M1005.5 429.8H1018.5M1051.3 383V406.2M1044.8 383H1057.8M1044.8 406.2H1057.8M1090.6 387.6V405.5M1084.1 387.6H1097.1M1084.1 405.5H1097.1M1130 376.7V408M1123.5 376.7H1136.5M1123.5 408H1136.5" stroke="#000" stroke-width="3" fill="none"/>
<path d="M986 324V546.4H1156.2V324Z" stroke="#000" stroke-width="3" fill="none" stroke-linejoin="miter"/>
<path d="M978.5 546.4H986M978.5 501.9H986M978.5 457.4H986M978.5 413H986M978.5 368.5H986M978.5 324H986M1012 546.4V553.4M1051.3 546.4V553.4M1090.6 546.4V553.4M1130 546.4V553.4" stroke="#000" stroke-width="3" fill="none"/>
<text x="976.5" y="551" text-anchor="end">0</text>
<text x="976.5" y="511.8" text-anchor="end">5</text>
<text x="976.5" y="467.3" text-anchor="end">10</text>
<text x="976.5" y="422.9" text-anchor="end">15</text>
<text x="976.5" y="378.4" text-anchor="end">20</text>
<text x="976.5" y="333.9" text-anchor="end">25</text>
<text x="1051.3" y="354.3" text-anchor="middle">***</text>
<text x="1090.6" y="377.3" text-anchor="middle">***</text>
<text x="1130" y="368.3" text-anchor="middle">***</text>
<text transform="translate(1026 568.4) rotate(-30)" text-anchor="end">Jack</text>
<text transform="translate(1068.3 569.9) rotate(-30)" text-anchor="end">CR1-SMS6</text>
<text transform="translate(1110.3 569.9) rotate(-30)" text-anchor="end">CR2-SMS6</text>
<text transform="translate(1154 569.9) rotate(-30)" text-anchor="end">CR3-SMS6</text>
<text transform="translate(935.7 430.5) rotate(-90)" text-anchor="middle">100-seed weight (g)</text>
<rect x="1261" y="430.2" width="28.5" height="117.6" fill="#D3D3D3"/>
<rect x="1300.2" y="407.8" width="28.5" height="140" fill="#C7DCF6"/>
<rect x="1339.5" y="395.7" width="28.5" height="152.1" fill="#93C0F6"/>
<rect x="1378.8" y="407" width="28.5" height="140.8" fill="#559FF9"/>
<g fill="#000"><circle cx="1275.2" cy="405.4" r="2"/><circle cx="1275.2" cy="408.6" r="2"/><circle cx="1267.3" cy="410.2" r="2"/><circle cx="1282.3" cy="411" r="2"/><circle cx="1270.5" cy="414.1" r="2"/><circle cx="1279.1" cy="414.1" r="2"/><circle cx="1268.1" cy="438.6" r="2"/><circle cx="1282.3" cy="437" r="2"/><circle cx="1268.1" cy="445.7" r="2"/><circle cx="1275.2" cy="452.8" r="2"/><circle cx="1271.3" cy="456.7" r="2"/><circle cx="1278.4" cy="456.7" r="2"/><circle cx="1275.2" cy="428" r="2"/><circle cx="1275.2" cy="435" r="2"/><circle cx="1275.2" cy="442" r="2"/><circle cx="1314.5" cy="363.2" r="2"/><circle cx="1310.7" cy="380.5" r="2"/><circle cx="1317.8" cy="381.3" r="2"/><circle cx="1306.8" cy="386" r="2"/><circle cx="1321.8" cy="387.3" r="2"/><circle cx="1306.8" cy="411" r="2"/><circle cx="1321.8" cy="407.8" r="2"/><circle cx="1321.8" cy="411" r="2"/><circle cx="1306.8" cy="425.2" r="2"/><circle cx="1313.9" cy="418.9" r="2"/><circle cx="1321.8" cy="437" r="2"/><circle cx="1313.9" cy="440.1" r="2"/><circle cx="1313.9" cy="442.5" r="2"/><circle cx="1313.9" cy="446.5" r="2"/><circle cx="1350.1" cy="365.5" r="2"/><circle cx="1357.3" cy="365.5" r="2"/><circle cx="1347.9" cy="373.1" r="2"/><circle cx="1360.5" cy="372.3" r="2"/><circle cx="1349.4" cy="385.4" r="2"/><circle cx="1357.3" cy="382.9" r="2"/><circle cx="1358.1" cy="387.3" r="2"/><circle cx="1346.3" cy="403.4" r="2"/><circle cx="1360.5" cy="403.9" r="2"/><circle cx="1349.4" cy="415.4" r="2"/><circle cx="1357.3" cy="415.4" r="2"/><circle cx="1354.2" cy="417.3" r="2"/><circle cx="1353.4" cy="428.3" r="2"/><circle cx="1353.4" cy="434.6" r="2"/><circle cx="1353.4" cy="438.6" r="2"/><circle cx="1393" cy="361.3" r="2"/><circle cx="1393" cy="369.2" r="2"/><circle cx="1393" cy="372.8" r="2"/><circle cx="1388.7" cy="395.2" r="2"/><circle cx="1396.6" cy="393.6" r="2"/><circle cx="1388.7" cy="420.4" r="2"/><circle cx="1396.6" cy="418.9" r="2"/><circle cx="1404.5" cy="415.7" r="2"/><circle cx="1404.5" cy="418.9" r="2"/><circle cx="1381.7" cy="431.2" r="2"/><circle cx="1381.7" cy="434.6" r="2"/><circle cx="1396.6" cy="432.3" r="2"/><circle cx="1405.3" cy="433" r="2"/></g>
<path d="M1275.2 413.3V449.6M1268.7 413.3H1281.7M1268.7 449.6H1281.7M1314.5 385.7V432.7M1308 385.7H1321M1308 432.7H1321M1353.7 373.9V420.1M1347.2 373.9H1360.2M1347.2 420.1H1360.2M1393 383.8V432.3M1386.5 383.8H1399.5M1386.5 432.3H1399.5" stroke="#000" stroke-width="3" fill="none"/>
<path d="M1249.4 325.3V547.8H1419V325.3Z" stroke="#000" stroke-width="3" fill="none" stroke-linejoin="miter"/>
<path d="M1241.9 547.8H1249.4M1241.9 492.2H1249.4M1241.9 436.5H1249.4M1241.9 380.9H1249.4M1241.9 325.3H1249.4M1275.2 547.8V554.8M1314.5 547.8V554.8M1353.7 547.8V554.8M1393 547.8V554.8" stroke="#000" stroke-width="3" fill="none"/>
<text x="1239.9" y="552.4" text-anchor="end">0</text>
<text x="1239.9" y="502.1" text-anchor="end">20</text>
<text x="1239.9" y="446.4" text-anchor="end">40</text>
<text x="1239.9" y="390.8" text-anchor="end">60</text>
<text x="1239.9" y="335.2" text-anchor="end">80</text>
<text x="1314.5" y="359.2" text-anchor="middle">**</text>
<text x="1353.7" y="370.3" text-anchor="middle">***</text>
<text x="1393" y="360.8" text-anchor="middle">**</text>
<text transform="translate(1285.2 569.8) rotate(-30)" text-anchor="end">Jack</text>
<text transform="translate(1326.5 571.3) rotate(-30)" text-anchor="end">CR1-SMS6</text>
<text transform="translate(1369 571.3) rotate(-30)" text-anchor="end">CR2-SMS6</text>
<text transform="translate(1413.7 571.3) rotate(-30)" text-anchor="end">CR3-SMS6</text>
<text transform="translate(1194.8 449.5) rotate(-90)" text-anchor="middle">Seed weight per plant (g)</text>
<rect x="1540.7" y="382.9" width="28.5" height="163.7" fill="#D3D3D3"/>
<rect x="1580" y="371.8" width="28.5" height="174.8" fill="#C7DCF6"/>
<rect x="1619.3" y="362.9" width="28.5" height="183.7" fill="#93C0F6"/>
<rect x="1658.8" y="364" width="28.5" height="182.6" fill="#559FF9"/>
<g fill="#000"></g>
<path d="M1554.9 380V388.1M1548.4 380H1561.4M1548.4 388.1H1561.4M1594.3 371V375.6M1587.8 371H1600.8M1587.8 375.6H1600.8M1633.6 353.4V375.1M1627.1 353.4H1640.1M1627.1 375.1H1640.1M1673 358.6V372.4M1666.5 358.6H1679.5M1666.5 372.4H1679.5" stroke="#000" stroke-width="3" fill="none"/>
<path d="M1529.3 324V546.6H1699.5V324Z" stroke="#000" stroke-width="3" fill="none" stroke-linejoin="miter"/>
<path d="M1521.8 546.6H1529.3M1521.8 491H1529.3M1521.8 435.3H1529.3M1521.8 379.6H1529.3M1521.8 324H1529.3M1554.9 546.6V553.6M1594.3 546.6V553.6M1633.6 546.6V553.6M1673 546.6V553.6" stroke="#000" stroke-width="3" fill="none"/>
<text x="1519.8" y="556.5" text-anchor="end">0</text>
<text x="1519.8" y="500.9" text-anchor="end">1000</text>
<text x="1519.8" y="445.2" text-anchor="end">2000</text>
<text x="1519.8" y="389.5" text-anchor="end">3000</text>
<text x="1519.8" y="338.3" text-anchor="end">4000</text>
<text x="1594.3" y="361.5" text-anchor="middle">*</text>
<text x="1633.6" y="356.5" text-anchor="middle">*</text>
<text x="1673" y="356.5" text-anchor="middle">*</text>
<text transform="translate(1564.9 568.6) rotate(-30)" text-anchor="end">Jack</text>
<text transform="translate(1606.3 570.1) rotate(-30)" text-anchor="end">CR1-SMS6</text>
<text transform="translate(1648.9 570.1) rotate(-30)" text-anchor="end">CR2-SMS6</text>
<text transform="translate(1693.7 570.1) rotate(-30)" text-anchor="end">CR3-SMS6</text>
<text transform="translate(1449.6 428.6) rotate(-90)" text-anchor="middle">Seed yield (kg.ha<tspan font-size="17" dy="-10">-1</tspan><tspan dy="10">)</tspan></text>
<rect x="1813.4" y="326.3" width="223.1" height="223.3" fill="none" stroke="#333" stroke-width="2.3"/>
<path d="M1810.9 348.9H1813.4M1810.9 414.9H1813.4M1810.9 481H1813.4M1810.9 547.1H1813.4" stroke="#333" stroke-width="2" fill="none"/>
<text x="1809" y="358.5" text-anchor="end">30</text>
<text x="1809" y="424.5" text-anchor="end">20</text>
<text x="1809" y="490.6" text-anchor="end">10</text>
<text x="1809" y="556.7" text-anchor="end">0</text>
<path d="M1874.00 333.50C1874.42 333.83 1875.97 331.58 1876.50 335.50C1877.03 339.42 1876.87 350.42 1877.20 357.00C1877.53 363.58 1877.95 370.00 1878.50 375.00C1879.05 380.00 1879.75 383.50 1880.50 387.00C1881.25 390.50 1881.75 393.00 1883.00 396.00C1884.25 399.00 1886.23 401.00 1888.00 405.00C1889.77 409.00 1892.00 414.83 1893.60 420.00C1895.20 425.17 1896.42 430.67 1897.60 436.00C1898.78 441.33 1900.20 448.33 1900.70 452.00C1901.20 455.67 1901.05 455.83 1900.60 458.00C1900.15 460.17 1898.93 462.67 1898.00 465.00C1897.07 467.33 1896.00 469.50 1895.00 472.00C1894.00 474.50 1893.42 476.40 1892.00 480.00C1890.58 483.60 1888.38 489.22 1886.50 493.60C1884.62 497.98 1882.20 501.90 1880.70 506.30C1879.20 510.70 1878.15 515.72 1877.50 520.00C1876.85 524.28 1876.98 528.83 1876.80 532.00C1876.62 535.17 1876.87 537.42 1876.40 539.00C1875.93 540.58 1874.40 541.08 1874.00 541.50C1873.60 541.92 1874.40 541.92 1874.00 541.50C1873.60 541.08 1872.07 540.58 1871.60 539.00C1871.13 537.42 1871.38 535.17 1871.20 532.00C1871.02 528.83 1871.15 524.28 1870.50 520.00C1869.85 515.72 1868.80 510.70 1867.30 506.30C1865.80 501.90 1863.38 497.98 1861.50 493.60C1859.62 489.22 1857.42 483.60 1856.00 480.00C1854.58 476.40 1854.00 474.50 1853.00 472.00C1852.00 469.50 1850.93 467.33 1850.00 465.00C1849.07 462.67 1847.85 460.17 1847.40 458.00C1846.95 455.83 1846.80 455.67 1847.30 452.00C1847.80 448.33 1849.22 441.33 1850.40 436.00C1851.58 430.67 1852.80 425.17 1854.40 420.00C1856.00 414.83 1858.23 409.00 1860.00 405.00C1861.77 401.00 1863.75 399.00 1865.00 396.00C1866.25 393.00 1866.75 390.50 1867.50 387.00C1868.25 383.50 1868.95 380.00 1869.50 375.00C1870.05 370.00 1870.47 363.58 1870.80 357.00C1871.13 350.42 1870.97 339.42 1871.50 335.50C1872.03 331.58 1873.58 333.83 1874.00 333.50C1874.42 333.17 1873.58 333.17 1874.00 333.50Z" fill="#42EF85"/>
<path d="M1975.20 343.00C1975.50 343.42 1976.23 344.07 1977.00 345.50C1977.77 346.93 1978.43 349.27 1979.80 351.60C1981.17 353.93 1983.98 356.62 1985.20 359.50C1986.42 362.38 1987.43 365.75 1987.10 368.90C1986.77 372.05 1984.05 375.23 1983.20 378.40C1982.35 381.57 1981.42 385.00 1982.00 387.90C1982.58 390.80 1984.83 393.03 1986.70 395.80C1988.57 398.57 1989.62 401.62 1993.20 404.50C1996.78 407.38 2003.23 409.95 2008.20 413.10C2013.17 416.25 2022.17 420.42 2023.00 423.40C2023.83 426.38 2016.75 428.23 2013.20 431.00C2009.65 433.77 2004.12 437.20 2001.70 440.00C1999.28 442.80 2000.95 444.92 1998.70 447.80C1996.45 450.68 1991.45 454.67 1988.20 457.30C1984.95 459.93 1981.37 461.55 1979.20 463.60C1977.03 465.65 1975.87 468.60 1975.20 469.60C1974.53 470.60 1975.87 470.60 1975.20 469.60C1974.53 468.60 1973.37 465.65 1971.20 463.60C1969.03 461.55 1965.45 459.93 1962.20 457.30C1958.95 454.67 1953.95 450.68 1951.70 447.80C1949.45 444.92 1951.12 442.80 1948.70 440.00C1946.28 437.20 1940.75 433.77 1937.20 431.00C1933.65 428.23 1926.57 426.38 1927.40 423.40C1928.23 420.42 1937.23 416.25 1942.20 413.10C1947.17 409.95 1953.62 407.38 1957.20 404.50C1960.78 401.62 1961.83 398.57 1963.70 395.80C1965.57 393.03 1967.82 390.80 1968.40 387.90C1968.98 385.00 1968.05 381.57 1967.20 378.40C1966.35 375.23 1963.63 372.05 1963.30 368.90C1962.97 365.75 1963.98 362.38 1965.20 359.50C1966.42 356.62 1969.23 353.93 1970.60 351.60C1971.97 349.27 1972.63 346.93 1973.40 345.50C1974.17 344.07 1974.90 343.42 1975.20 343.00C1975.50 342.58 1974.90 342.58 1975.20 343.00Z" fill="#F0A80C"/>
<g stroke="#333" stroke-width="2.4" fill="none">
<path d="M1874 386.5V428M1874 465.3V514.5"/>
<rect x="1867.7" y="428" width="12.6" height="37.3"/>
<path d="M1867.7 449H1880.3"/>
</g>
<circle cx="1874" cy="361.4" r="3.3" fill="#333"/>
<circle cx="1874" cy="363" r="3.3" fill="#333"/>
<circle cx="1874" cy="373.9" r="3.3" fill="#333"/>
<g stroke="#333" stroke-width="2.4" fill="none">
<path d="M1975.2 396.5V414.7M1975.2 434V447.8"/>
<rect x="1969.2" y="414.7" width="12" height="19.3"/>
<path d="M1969.2 421H1981.2"/>
</g>
<circle cx="1975.2" cy="364.2" r="3.3" fill="#333"/>
<circle cx="1975.2" cy="368.9" r="3.3" fill="#333"/>
<circle cx="1975.2" cy="380.4" r="3.3" fill="#333"/>
<text x="1975.5" y="349" text-anchor="middle">***</text>
<text x="1892" y="543.4" font-style="italic">G. max</text>
<text transform="translate(1775.3 439.8) rotate(-90)" text-anchor="middle">100-seed weight (g)</text>
<text transform="translate(1915.5 572.9) rotate(-30)" text-anchor="end" font-style="italic">GmbZIP151<tspan font-size="18" dy="-10">A</tspan></text>
<text transform="translate(2032.2 572.9) rotate(-30)" text-anchor="end" font-style="italic">GmbZIP151<tspan font-size="18" dy="-10">C</tspan></text>
<rect x="968.6" y="668" width="212" height="212.6" fill="none" stroke="#333" stroke-width="2.3"/>
<path d="M966.1 693.1H968.6M966.1 761.8H968.6M966.1 829.2H968.6M966.1 878.2H968.6" stroke="#333" stroke-width="2" fill="none"/>
<text x="965" y="702.7" text-anchor="end">30</text>
<text x="965" y="771.4" text-anchor="end">20</text>
<text x="965" y="838.8" text-anchor="end">10</text>
<text x="965" y="887.8" text-anchor="end">0</text>
<path d="M1026.20 674.00C1026.77 674.33 1028.97 673.33 1029.60 676.00C1030.23 678.67 1029.90 685.00 1030.00 690.00C1030.10 695.00 1030.07 701.37 1030.20 706.00C1030.33 710.63 1030.13 712.88 1030.80 717.80C1031.47 722.72 1032.75 729.58 1034.20 735.50C1035.65 741.42 1037.87 747.38 1039.50 753.30C1041.13 759.22 1042.82 765.08 1044.00 771.00C1045.18 776.92 1046.20 784.05 1046.60 788.80C1047.00 793.55 1047.58 795.05 1046.40 799.50C1045.22 803.95 1041.53 809.88 1039.50 815.50C1037.47 821.12 1035.78 827.28 1034.20 833.20C1032.62 839.12 1030.90 845.53 1030.00 851.00C1029.10 856.47 1029.43 862.25 1028.80 866.00C1028.17 869.75 1026.63 872.25 1026.20 873.50C1025.77 874.75 1026.63 874.75 1026.20 873.50C1025.77 872.25 1024.23 869.75 1023.60 866.00C1022.97 862.25 1023.30 856.47 1022.40 851.00C1021.50 845.53 1019.78 839.12 1018.20 833.20C1016.62 827.28 1014.93 821.12 1012.90 815.50C1010.87 809.88 1007.18 803.95 1006.00 799.50C1004.82 795.05 1005.40 793.55 1005.80 788.80C1006.20 784.05 1007.22 776.92 1008.40 771.00C1009.58 765.08 1011.27 759.22 1012.90 753.30C1014.53 747.38 1016.75 741.42 1018.20 735.50C1019.65 729.58 1020.93 722.72 1021.60 717.80C1022.27 712.88 1022.07 710.63 1022.20 706.00C1022.33 701.37 1022.30 695.00 1022.40 690.00C1022.50 685.00 1022.17 678.67 1022.80 676.00C1023.43 673.33 1025.63 674.33 1026.20 674.00C1026.77 673.67 1025.63 673.67 1026.20 674.00Z" fill="#42EF85"/>
<path d="M1122.60 692.50C1122.90 693.40 1123.17 695.95 1124.40 697.90C1125.63 699.85 1128.47 702.10 1130.00 704.20C1131.53 706.30 1133.73 708.27 1133.60 710.50C1133.47 712.73 1130.67 715.23 1129.20 717.60C1127.73 719.97 1124.93 722.20 1124.80 724.70C1124.67 727.20 1126.88 729.45 1128.40 732.60C1129.92 735.75 1132.82 740.37 1133.90 743.60C1134.98 746.83 1133.18 749.63 1134.90 752.00C1136.62 754.37 1139.77 755.88 1144.20 757.80C1148.63 759.72 1157.62 761.78 1161.50 763.50C1165.38 765.22 1168.28 766.42 1167.50 768.10C1166.72 769.78 1160.95 771.37 1156.80 773.60C1152.65 775.83 1145.50 779.13 1142.60 781.50C1139.70 783.87 1139.80 785.70 1139.40 787.80C1139.00 789.90 1141.50 792.00 1140.20 794.10C1138.90 796.20 1134.10 798.55 1131.60 800.40C1129.10 802.25 1126.70 803.57 1125.20 805.20C1123.70 806.83 1123.03 809.37 1122.60 810.20C1122.17 811.03 1123.03 811.03 1122.60 810.20C1122.17 809.37 1121.50 806.83 1120.00 805.20C1118.50 803.57 1116.10 802.25 1113.60 800.40C1111.10 798.55 1106.30 796.20 1105.00 794.10C1103.70 792.00 1106.20 789.90 1105.80 787.80C1105.40 785.70 1105.50 783.87 1102.60 781.50C1099.70 779.13 1092.55 775.83 1088.40 773.60C1084.25 771.37 1078.48 769.78 1077.70 768.10C1076.92 766.42 1079.82 765.22 1083.70 763.50C1087.58 761.78 1096.57 759.72 1101.00 757.80C1105.43 755.88 1108.58 754.37 1110.30 752.00C1112.02 749.63 1110.22 746.83 1111.30 743.60C1112.38 740.37 1115.28 735.75 1116.80 732.60C1118.32 729.45 1120.53 727.20 1120.40 724.70C1120.27 722.20 1117.47 719.97 1116.00 717.60C1114.53 715.23 1111.73 712.73 1111.60 710.50C1111.47 708.27 1113.67 706.30 1115.20 704.20C1116.73 702.10 1119.57 699.85 1120.80 697.90C1122.03 695.95 1122.30 693.40 1122.60 692.50C1122.90 691.60 1122.30 691.60 1122.60 692.50Z" fill="#F0A80C"/>
<g stroke="#333" stroke-width="2.4" fill="none">
<path d="M1026.2 717.8V768.4M1026.2 806.6V843"/>
<rect x="1020.2" y="768.4" width="12" height="38.2"/>
<path d="M1020.2 790.5H1032.2"/>
</g>
<circle cx="1026.2" cy="706" r="3.3" fill="#333"/>
<g stroke="#333" stroke-width="2.4" fill="none">
<path d="M1122.6 746.5V762.9M1122.6 777.1V794.9"/>
<rect x="1116.8" y="762.9" width="11.6" height="14.2"/>
<path d="M1116.8 764.9H1128.4"/>
</g>
<circle cx="1122.6" cy="708.1" r="3.3" fill="#333"/>
<circle cx="1122.6" cy="712.9" r="3.3" fill="#333"/>
<circle cx="1122.6" cy="740.8" r="3.3" fill="#333"/>
<text x="1123.5" y="697.5" text-anchor="middle" font-size="33">***</text>
<text x="1035.5" y="876" font-style="italic">G. max</text>
<text transform="translate(931.5 771) rotate(-90)" text-anchor="middle">100-seed weight (g)</text>
<rect x="1276.6" y="668.9" width="211.2" height="211.1" fill="none" stroke="#333" stroke-width="2.3"/>
<path d="M1274.1 699.3H1276.6M1274.1 758.6H1276.6M1274.1 818.8H1276.6M1274.1 878H1276.6" stroke="#333" stroke-width="2" fill="none"/>
<text x="1272" y="708.9" text-anchor="end">30</text>
<text x="1272" y="768.2" text-anchor="end">20</text>
<text x="1272" y="828.4" text-anchor="end">10</text>
<text x="1272" y="887.6" text-anchor="end">0</text>
<path d="M1334.20 696.00C1334.47 696.33 1335.43 696.47 1335.80 698.00C1336.17 699.53 1336.03 701.45 1336.40 705.20C1336.77 708.95 1337.93 715.50 1338.00 720.50C1338.07 725.50 1335.85 731.17 1336.80 735.20C1337.75 739.23 1341.68 740.50 1343.70 744.70C1345.72 748.90 1347.77 755.93 1348.90 760.40C1350.03 764.87 1350.48 768.57 1350.50 771.50C1350.52 774.43 1348.08 775.90 1349.00 778.00C1349.92 780.10 1352.05 781.58 1356.00 784.10C1359.95 786.62 1368.97 789.90 1372.70 793.10C1376.43 796.30 1378.40 799.88 1378.40 803.30C1378.40 806.72 1376.43 810.18 1372.70 813.60C1368.97 817.02 1360.08 820.82 1356.00 823.80C1351.92 826.78 1349.92 828.72 1348.20 831.50C1346.48 834.28 1346.97 837.08 1345.70 840.50C1344.43 843.92 1342.12 848.37 1340.60 852.00C1339.08 855.63 1337.67 858.97 1336.60 862.30C1335.53 865.63 1334.60 870.38 1334.20 872.00C1333.80 873.62 1334.60 873.62 1334.20 872.00C1333.80 870.38 1332.87 865.63 1331.80 862.30C1330.73 858.97 1329.32 855.63 1327.80 852.00C1326.28 848.37 1323.97 843.92 1322.70 840.50C1321.43 837.08 1321.92 834.28 1320.20 831.50C1318.48 828.72 1316.48 826.78 1312.40 823.80C1308.32 820.82 1299.43 817.02 1295.70 813.60C1291.97 810.18 1290.00 806.72 1290.00 803.30C1290.00 799.88 1291.97 796.30 1295.70 793.10C1299.43 789.90 1308.45 786.62 1312.40 784.10C1316.35 781.58 1318.48 780.10 1319.40 778.00C1320.32 775.90 1317.88 774.43 1317.90 771.50C1317.92 768.57 1318.37 764.87 1319.50 760.40C1320.63 755.93 1322.68 748.90 1324.70 744.70C1326.72 740.50 1330.65 739.23 1331.60 735.20C1332.55 731.17 1330.33 725.50 1330.40 720.50C1330.47 715.50 1331.63 708.95 1332.00 705.20C1332.37 701.45 1332.23 699.53 1332.60 698.00C1332.97 696.47 1333.93 696.33 1334.20 696.00C1334.47 695.67 1333.93 695.67 1334.20 696.00Z" fill="#42EF85"/>
<path d="M1430.20 684.50C1430.47 684.92 1431.18 685.33 1431.80 687.00C1432.42 688.67 1432.17 691.42 1433.90 694.50C1435.63 697.58 1439.90 702.05 1442.20 705.50C1444.50 708.95 1446.32 711.75 1447.70 715.20C1449.08 718.65 1450.62 722.52 1450.50 726.20C1450.38 729.88 1448.03 733.62 1447.00 737.30C1445.97 740.98 1443.27 744.62 1444.30 748.30C1445.33 751.98 1450.10 755.72 1453.20 759.40C1456.30 763.08 1460.48 766.73 1462.90 770.40C1465.32 774.07 1468.05 777.72 1467.70 781.40C1467.35 785.08 1463.67 789.05 1460.80 792.50C1457.93 795.95 1454.03 798.80 1450.50 802.10C1446.97 805.40 1442.48 808.68 1439.60 812.30C1436.72 815.92 1434.77 819.78 1433.20 823.80C1431.63 827.82 1430.70 834.30 1430.20 836.40C1429.70 838.50 1430.70 838.50 1430.20 836.40C1429.70 834.30 1428.77 827.82 1427.20 823.80C1425.63 819.78 1423.68 815.92 1420.80 812.30C1417.92 808.68 1413.43 805.40 1409.90 802.10C1406.37 798.80 1402.47 795.95 1399.60 792.50C1396.73 789.05 1393.05 785.08 1392.70 781.40C1392.35 777.72 1395.08 774.07 1397.50 770.40C1399.92 766.73 1404.10 763.08 1407.20 759.40C1410.30 755.72 1415.07 751.98 1416.10 748.30C1417.13 744.62 1414.43 740.98 1413.40 737.30C1412.37 733.62 1410.02 729.88 1409.90 726.20C1409.78 722.52 1411.32 718.65 1412.70 715.20C1414.08 711.75 1415.90 708.95 1418.20 705.50C1420.50 702.05 1424.77 697.58 1426.50 694.50C1428.23 691.42 1427.98 688.67 1428.60 687.00C1429.22 685.33 1429.93 684.92 1430.20 684.50C1430.47 684.08 1429.93 684.08 1430.20 684.50Z" fill="#F0A80C"/>
<g stroke="#333" stroke-width="2.4" fill="none">
<path d="M1334.2 751V790.5M1334.2 816.4V847.6"/>
<rect x="1328.2" y="790.5" width="12" height="25.9"/>
<path d="M1328.2 803.1H1340.2"/>
</g>
<circle cx="1334.2" cy="720.5" r="3.3" fill="#333"/>
<circle cx="1334.2" cy="751" r="3.3" fill="#333"/>
<g stroke="#333" stroke-width="2.4" fill="none">
<path d="M1430.2 726.9V751.4M1430.2 782.8V786.3"/>
<rect x="1424.2" y="751.4" width="12" height="31.4"/>
<path d="M1424.2 779.4H1436.2"/>
</g>
<text x="1430.2" y="697.5" text-anchor="middle" font-size="33">*</text>
<text x="1347.5" y="876" font-style="italic">G. max</text>
<text transform="translate(1237.3 770) rotate(-90)" text-anchor="middle">100-seed weight (g)</text>
<g transform="translate(889 983.8) rotate(-30)" font-style="italic">
<text x="0" y="0">GmSMS6<tspan font-size="17.8" dy="-9.5">Hap1</tspan><tspan dy="9.5" font-style="normal">/</tspan></text>
<text x="0" y="31.5">GmbZIP151<tspan font-size="18.5" dy="-10">A</tspan></text>
</g>
<g transform="translate(1016 983.8) rotate(-30)" font-style="italic">
<text x="0" y="0">GmSMS6<tspan font-size="17.8" dy="-9.5">Hap1</tspan><tspan dy="9.5" font-style="normal">/</tspan></text>
<text x="0" y="31.5">GmbZIP151<tspan font-size="18.5" dy="-10">C</tspan></text>
</g>
<g transform="translate(1205.7 986.8) rotate(-30)" font-style="italic">
<text x="0" y="0">GmSMS6<tspan font-size="17.8" dy="-9.5">Hap2</tspan><tspan dy="9.5" font-style="normal">/</tspan></text>
<text x="0" y="31.5">GmbZIP151<tspan font-size="18.5" dy="-10">A</tspan></text>
</g>
<g transform="translate(1332.7 986.8) rotate(-30)" font-style="italic">
<text x="0" y="0">GmSMS6<tspan font-size="17.8" dy="-9.5">Hap2</tspan><tspan dy="9.5" font-style="normal">/</tspan></text>
<text x="0" y="31.5">GmbZIP151<tspan font-size="18.5" dy="-10">C</tspan></text>
</g>
<path d="M1670.00 764.70L1670.00 649.70A115 115 0 0 0 1606.56 668.78Z" fill="#4DAF4A"/>
<path d="M1670.00 764.70L1606.56 668.78A115 115 0 1 0 1784.18 751.00Z" fill="#A0D9E5"/>
<path d="M1670.00 764.70L1784.18 751.00A115 115 0 0 0 1782.68 741.73Z" fill="#FF69B4"/>
<path d="M1670.00 764.70L1782.68 741.73A115 115 0 0 0 1670.00 649.70Z" fill="#FFB6C1"/>
<path d="M1935.00 764.70L1935.00 649.70A115 115 0 0 0 1820.19 771.39Z" fill="#4DAF4A"/>
<path d="M1935.00 764.70L1820.19 771.39A115 115 0 0 0 1921.65 878.92Z" fill="#A0D9E5"/>
<path d="M1935.00 764.70L1921.65 878.92A115 115 0 0 0 2049.81 771.39Z" fill="#FF69B4"/>
<path d="M1935.00 764.70L2049.81 771.39A115 115 0 0 0 1935.00 649.70Z" fill="#FFB6C1"/>
<text x="1652.2" y="697.2" text-anchor="middle" fill="#fff" font-size="31">9.3%</text>
<text x="1717.4" y="727.8" text-anchor="middle" fill="#fff" font-size="31">21.8%</text>
<text x="1746.9" y="765" text-anchor="middle" fill="#fff" font-size="31">1.3%</text>
<text x="1645.1" y="831.8" text-anchor="middle" fill="#fff" font-size="31">67.6%</text>
<text x="1884.8" y="739.6" text-anchor="middle" fill="#fff" font-size="31">25.9%</text>
<text x="1989.8" y="735.2" text-anchor="middle" fill="#fff" font-size="31">25.9%</text>
<text x="1884.3" y="820" text-anchor="middle" fill="#fff" font-size="31">22.2%</text>
<text x="1984.8" y="817" text-anchor="middle" fill="#fff" font-size="31">25.9%</text>
<text x="1665.4" y="901.5" text-anchor="middle" font-style="italic">G. max</text>
<text x="1937.7" y="901.5" text-anchor="middle" font-style="italic">G. soja</text>
<rect x="1613" y="920.2" width="21.3" height="20.6" fill="#4DAF4A"/>
<text x="1638" y="939.3" font-style="italic">GmSMS6<tspan font-size="17.8" dy="-7.5">Hap1</tspan><tspan dy="7.5" font-style="normal">/</tspan>GmbZIP151<tspan font-size="17.8" dy="-7.5">C</tspan></text>
<rect x="1613" y="944.7" width="21.3" height="20.6" fill="#A0D9E5"/>
<text x="1638" y="963.8" font-style="italic">GmSMS6<tspan font-size="17.8" dy="-7.5">Hap1</tspan><tspan dy="7.5" font-style="normal">/</tspan>GmbZIP151<tspan font-size="17.8" dy="-7.5">A</tspan></text>
<rect x="1613" y="969.1" width="21.3" height="20.6" fill="#FF69B4"/>
<text x="1638" y="988.2" font-style="italic">GmSMS6<tspan font-size="17.8" dy="-7.5">Hap2</tspan><tspan dy="7.5" font-style="normal">/</tspan>GmbZIP151<tspan font-size="17.8" dy="-7.5">C</tspan></text>
<rect x="1613" y="993.6" width="21.3" height="20.6" fill="#FFB6C1"/>
<text x="1638" y="1012.6" font-style="italic">GmSMS6<tspan font-size="17.8" dy="-7.5">Hap2</tspan><tspan dy="7.5" font-style="normal">/</tspan>GmbZIP151<tspan font-size="17.8" dy="-7.5">A</tspan></text>
</svg>
</body></html>
